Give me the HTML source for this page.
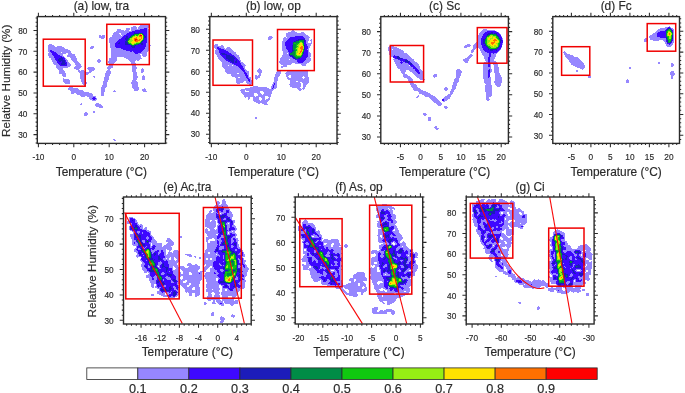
<!DOCTYPE html>
<html><head><meta charset="utf-8"><title>RH vs Temperature</title>
<style>html,body{margin:0;padding:0;background:#fff;}body{width:685px;height:393px;overflow:hidden;}svg{display:block;will-change:transform;}text{font-family:"Liberation Sans",sans-serif;fill:#2b2b2b;stroke:#2b2b2b;stroke-width:0.18px;}.t{font-size:11.9px;text-anchor:middle;}.k{font-size:9.2px;text-anchor:middle;}.ky{font-size:9.2px;text-anchor:end;}.ax{stroke:#2b2b2b;stroke-width:1.4;fill:none;}.tk{stroke:#2b2b2b;stroke-width:1.05;fill:none;}.bx{stroke:#f00000;stroke-width:1.5;fill:none;}.ln{stroke:#f80808;stroke-width:1.1;fill:none;}</style></head><body>
<svg width="685" height="393" viewBox="0 0 685 393">
<defs>
<filter id="cma" filterUnits="userSpaceOnUse" x="37.3" y="16.6" width="128.2" height="126.8" color-interpolation-filters="sRGB">
<feColorMatrix in="SourceGraphic" type="matrix" values="1 0 0 0 0  1 0 0 0 0  1 0 0 0 0  0 0 0 0 1" result="rr"/>
<feGaussianBlur in="rr" stdDeviation="1.1" result="dr"/>
<feColorMatrix in="SourceGraphic" type="matrix" values="0 1 0 0 0  0 1 0 0 0  0 1 0 0 0  0 0 0 0 1" result="gg"/>
<feGaussianBlur in="gg" stdDeviation="1.0" result="dg"/>
<feTurbulence type="fractalNoise" baseFrequency="0.2" numOctaves="2" seed="5" result="n0"/>
<feColorMatrix in="n0" type="matrix" values="1 0 0 0 0  1 0 0 0 0  1 0 0 0 0  0 0 0 0 1" result="n"/>
<feTurbulence type="fractalNoise" baseFrequency="0.25" numOctaves="1" seed="25" result="nf0"/>
<feColorMatrix in="nf0" type="matrix" values="1 0 0 0 0  1 0 0 0 0  1 0 0 0 0  0 0 0 0 1" result="nf"/>
<feComposite in="dr" in2="nf" operator="arithmetic" k1="2.8" k2="-0.4" k3="0" k4="0" result="mr"/>
<feComposite in="dg" in2="n" operator="arithmetic" k1="0.6" k2="0.7" k3="0" k4="0" result="mg"/>
<feFlood flood-color="rgb(49,49,49)" result="cap"/>
<feBlend in="mr" in2="cap" mode="darken" result="mrc"/>
<feBlend in="mrc" in2="mg" mode="lighten" result="mrg"/>
<feColorMatrix in="SourceGraphic" type="matrix" values="0 0 1 0 0  0 0 1 0 0  0 0 1 0 0  0 0 0 0 1" result="bb"/>
<feGaussianBlur in="bb" stdDeviation="0.9" result="db"/>
<feComposite in="db" in2="n" operator="arithmetic" k1="0.7" k2="0.65" k3="0" k4="0" result="mb"/>
<feBlend in="mrg" in2="mb" mode="lighten" result="m"/>
<feColorMatrix in="m" type="matrix" values="1 0 0 0 0  0 1 0 0 0  0 0 1 0 0  0 0 0 0 1" result="m0"/>
<feGaussianBlur in="m0" stdDeviation="0.5" result="m1"/>
<feComponentTransfer in="m1" result="ct"><feFuncR type="discrete" tableValues="1 0.59 0.24 0.11 0 0.06 0.59 1 1 1"/><feFuncG type="discrete" tableValues="1 0.53 0.03 0.11 0.55 0.78 0.93 0.89 0.44 0"/><feFuncB type="discrete" tableValues="1 1 1 0.73 0.27 0.06 0.08 0 0 0"/></feComponentTransfer>
<feGaussianBlur in="ct" stdDeviation="0.6"/>
</filter>
<clipPath id="cpa"><rect x="37.3" y="16.6" width="128.2" height="126.8"/></clipPath>
<filter id="cmb" filterUnits="userSpaceOnUse" x="209.8" y="16.6" width="127.2" height="126.8" color-interpolation-filters="sRGB">
<feColorMatrix in="SourceGraphic" type="matrix" values="1 0 0 0 0  1 0 0 0 0  1 0 0 0 0  0 0 0 0 1" result="rr"/>
<feGaussianBlur in="rr" stdDeviation="1.1" result="dr"/>
<feColorMatrix in="SourceGraphic" type="matrix" values="0 1 0 0 0  0 1 0 0 0  0 1 0 0 0  0 0 0 0 1" result="gg"/>
<feGaussianBlur in="gg" stdDeviation="1.0" result="dg"/>
<feTurbulence type="fractalNoise" baseFrequency="0.2" numOctaves="2" seed="8" result="n0"/>
<feColorMatrix in="n0" type="matrix" values="1 0 0 0 0  1 0 0 0 0  1 0 0 0 0  0 0 0 0 1" result="n"/>
<feTurbulence type="fractalNoise" baseFrequency="0.25" numOctaves="1" seed="28" result="nf0"/>
<feColorMatrix in="nf0" type="matrix" values="1 0 0 0 0  1 0 0 0 0  1 0 0 0 0  0 0 0 0 1" result="nf"/>
<feComposite in="dr" in2="nf" operator="arithmetic" k1="2.8" k2="-0.4" k3="0" k4="0" result="mr"/>
<feComposite in="dg" in2="n" operator="arithmetic" k1="0.6" k2="0.7" k3="0" k4="0" result="mg"/>
<feFlood flood-color="rgb(49,49,49)" result="cap"/>
<feBlend in="mr" in2="cap" mode="darken" result="mrc"/>
<feBlend in="mrc" in2="mg" mode="lighten" result="mrg"/>
<feColorMatrix in="SourceGraphic" type="matrix" values="0 0 1 0 0  0 0 1 0 0  0 0 1 0 0  0 0 0 0 1" result="bb"/>
<feGaussianBlur in="bb" stdDeviation="0.9" result="db"/>
<feComposite in="db" in2="n" operator="arithmetic" k1="0.7" k2="0.65" k3="0" k4="0" result="mb"/>
<feBlend in="mrg" in2="mb" mode="lighten" result="m"/>
<feColorMatrix in="m" type="matrix" values="1 0 0 0 0  0 1 0 0 0  0 0 1 0 0  0 0 0 0 1" result="m0"/>
<feGaussianBlur in="m0" stdDeviation="0.5" result="m1"/>
<feComponentTransfer in="m1" result="ct"><feFuncR type="discrete" tableValues="1 0.59 0.24 0.11 0 0.06 0.59 1 1 1"/><feFuncG type="discrete" tableValues="1 0.53 0.03 0.11 0.55 0.78 0.93 0.89 0.44 0"/><feFuncB type="discrete" tableValues="1 1 1 0.73 0.27 0.06 0.08 0 0 0"/></feComponentTransfer>
<feGaussianBlur in="ct" stdDeviation="0.6"/>
</filter>
<clipPath id="cpb"><rect x="209.8" y="16.6" width="127.2" height="126.8"/></clipPath>
<filter id="cmc" filterUnits="userSpaceOnUse" x="380.8" y="16.6" width="127.6" height="126.8" color-interpolation-filters="sRGB">
<feColorMatrix in="SourceGraphic" type="matrix" values="1 0 0 0 0  1 0 0 0 0  1 0 0 0 0  0 0 0 0 1" result="rr"/>
<feGaussianBlur in="rr" stdDeviation="1.1" result="dr"/>
<feColorMatrix in="SourceGraphic" type="matrix" values="0 1 0 0 0  0 1 0 0 0  0 1 0 0 0  0 0 0 0 1" result="gg"/>
<feGaussianBlur in="gg" stdDeviation="0.75" result="dg"/>
<feTurbulence type="fractalNoise" baseFrequency="0.2" numOctaves="2" seed="11" result="n0"/>
<feColorMatrix in="n0" type="matrix" values="1 0 0 0 0  1 0 0 0 0  1 0 0 0 0  0 0 0 0 1" result="n"/>
<feTurbulence type="fractalNoise" baseFrequency="0.25" numOctaves="1" seed="31" result="nf0"/>
<feColorMatrix in="nf0" type="matrix" values="1 0 0 0 0  1 0 0 0 0  1 0 0 0 0  0 0 0 0 1" result="nf"/>
<feComposite in="dr" in2="nf" operator="arithmetic" k1="2.3" k2="-0.15" k3="0" k4="0" result="mr"/>
<feComposite in="dg" in2="n" operator="arithmetic" k1="0.6" k2="0.7" k3="0" k4="0" result="mg"/>
<feFlood flood-color="rgb(49,49,49)" result="cap"/>
<feBlend in="mr" in2="cap" mode="darken" result="mrc"/>
<feBlend in="mrc" in2="mg" mode="lighten" result="mrg"/>
<feColorMatrix in="SourceGraphic" type="matrix" values="0 0 1 0 0  0 0 1 0 0  0 0 1 0 0  0 0 0 0 1" result="bb"/>
<feGaussianBlur in="bb" stdDeviation="0.9" result="db"/>
<feComposite in="db" in2="n" operator="arithmetic" k1="0.7" k2="0.65" k3="0" k4="0" result="mb"/>
<feBlend in="mrg" in2="mb" mode="lighten" result="m"/>
<feColorMatrix in="m" type="matrix" values="1 0 0 0 0  0 1 0 0 0  0 0 1 0 0  0 0 0 0 1" result="m0"/>
<feGaussianBlur in="m0" stdDeviation="0.5" result="m1"/>
<feComponentTransfer in="m1" result="ct"><feFuncR type="discrete" tableValues="1 0.59 0.24 0.11 0 0.06 0.59 1 1 1"/><feFuncG type="discrete" tableValues="1 0.53 0.03 0.11 0.55 0.78 0.93 0.89 0.44 0"/><feFuncB type="discrete" tableValues="1 1 1 0.73 0.27 0.06 0.08 0 0 0"/></feComponentTransfer>
<feGaussianBlur in="ct" stdDeviation="0.6"/>
</filter>
<clipPath id="cpc"><rect x="380.8" y="16.6" width="127.6" height="126.8"/></clipPath>
<filter id="cmd" filterUnits="userSpaceOnUse" x="552.8" y="16.6" width="126.7" height="126.8" color-interpolation-filters="sRGB">
<feColorMatrix in="SourceGraphic" type="matrix" values="1 0 0 0 0  1 0 0 0 0  1 0 0 0 0  0 0 0 0 1" result="rr"/>
<feGaussianBlur in="rr" stdDeviation="1.1" result="dr"/>
<feColorMatrix in="SourceGraphic" type="matrix" values="0 1 0 0 0  0 1 0 0 0  0 1 0 0 0  0 0 0 0 1" result="gg"/>
<feGaussianBlur in="gg" stdDeviation="1.0" result="dg"/>
<feTurbulence type="fractalNoise" baseFrequency="0.2" numOctaves="2" seed="2" result="n0"/>
<feColorMatrix in="n0" type="matrix" values="1 0 0 0 0  1 0 0 0 0  1 0 0 0 0  0 0 0 0 1" result="n"/>
<feTurbulence type="fractalNoise" baseFrequency="0.25" numOctaves="1" seed="22" result="nf0"/>
<feColorMatrix in="nf0" type="matrix" values="1 0 0 0 0  1 0 0 0 0  1 0 0 0 0  0 0 0 0 1" result="nf"/>
<feComposite in="dr" in2="nf" operator="arithmetic" k1="0.8" k2="0.6" k3="0" k4="0" result="mr"/>
<feComposite in="dg" in2="n" operator="arithmetic" k1="0.6" k2="0.7" k3="0" k4="0" result="mg"/>
<feFlood flood-color="rgb(49,49,49)" result="cap"/>
<feBlend in="mr" in2="cap" mode="darken" result="mrc"/>
<feBlend in="mrc" in2="mg" mode="lighten" result="mrg"/>
<feColorMatrix in="SourceGraphic" type="matrix" values="0 0 1 0 0  0 0 1 0 0  0 0 1 0 0  0 0 0 0 1" result="bb"/>
<feGaussianBlur in="bb" stdDeviation="0.9" result="db"/>
<feComposite in="db" in2="n" operator="arithmetic" k1="0.7" k2="0.65" k3="0" k4="0" result="mb"/>
<feBlend in="mrg" in2="mb" mode="lighten" result="m"/>
<feColorMatrix in="m" type="matrix" values="1 0 0 0 0  0 1 0 0 0  0 0 1 0 0  0 0 0 0 1" result="m0"/>
<feGaussianBlur in="m0" stdDeviation="0.5" result="m1"/>
<feComponentTransfer in="m1" result="ct"><feFuncR type="discrete" tableValues="1 0.59 0.24 0.11 0 0.06 0.59 1 1 1"/><feFuncG type="discrete" tableValues="1 0.53 0.03 0.11 0.55 0.78 0.93 0.89 0.44 0"/><feFuncB type="discrete" tableValues="1 1 1 0.73 0.27 0.06 0.08 0 0 0"/></feComponentTransfer>
<feGaussianBlur in="ct" stdDeviation="0.6"/>
</filter>
<clipPath id="cpd"><rect x="552.8" y="16.6" width="126.7" height="126.8"/></clipPath>
<filter id="cme" filterUnits="userSpaceOnUse" x="123.5" y="197" width="127.7" height="127" color-interpolation-filters="sRGB">
<feColorMatrix in="SourceGraphic" type="matrix" values="1 0 0 0 0  1 0 0 0 0  1 0 0 0 0  0 0 0 0 1" result="rr"/>
<feGaussianBlur in="rr" stdDeviation="1.0" result="dr"/>
<feColorMatrix in="SourceGraphic" type="matrix" values="0 1 0 0 0  0 1 0 0 0  0 1 0 0 0  0 0 0 0 1" result="gg"/>
<feGaussianBlur in="gg" stdDeviation="0.9" result="dg"/>
<feTurbulence type="fractalNoise" baseFrequency="0.26" numOctaves="1" seed="4" result="n0"/>
<feColorMatrix in="n0" type="matrix" values="1 0 0 0 0  1 0 0 0 0  1 0 0 0 0  0 0 0 0 1" result="n"/>
<feTurbulence type="fractalNoise" baseFrequency="0.25" numOctaves="1" seed="24" result="nf0"/>
<feColorMatrix in="nf0" type="matrix" values="1 0 0 0 0  1 0 0 0 0  1 0 0 0 0  0 0 0 0 1" result="nf"/>
<feComposite in="dr" in2="n" operator="arithmetic" k1="3.2" k2="-0.6" k3="0" k4="0" result="mr"/>
<feComposite in="dg" in2="n" operator="arithmetic" k1="2.4" k2="-0.2" k3="0" k4="0" result="mg"/>
<feFlood flood-color="rgb(49,49,49)" result="cap"/>
<feBlend in="mr" in2="cap" mode="darken" result="mrc"/>
<feBlend in="mrc" in2="mg" mode="lighten" result="mrg"/>
<feColorMatrix in="SourceGraphic" type="matrix" values="0 0 1 0 0  0 0 1 0 0  0 0 1 0 0  0 0 0 0 1" result="bb"/>
<feGaussianBlur in="bb" stdDeviation="0.9" result="db"/>
<feComposite in="db" in2="n" operator="arithmetic" k1="1.3" k2="0.35" k3="0" k4="0" result="mb"/>
<feBlend in="mrg" in2="mb" mode="lighten" result="m"/>
<feColorMatrix in="m" type="matrix" values="1 0 0 0 0  0 1 0 0 0  0 0 1 0 0  0 0 0 0 1" result="m0"/>
<feGaussianBlur in="m0" stdDeviation="0.6" result="m1"/>
<feComponentTransfer in="m1" result="ct"><feFuncR type="discrete" tableValues="1 0.59 0.24 0.11 0 0.06 0.59 1 1 1"/><feFuncG type="discrete" tableValues="1 0.53 0.03 0.11 0.55 0.78 0.93 0.89 0.44 0"/><feFuncB type="discrete" tableValues="1 1 1 0.73 0.27 0.06 0.08 0 0 0"/></feComponentTransfer>
<feGaussianBlur in="ct" stdDeviation="0.6"/>
</filter>
<clipPath id="cpe"><rect x="123.5" y="197" width="127.7" height="127"/></clipPath>
<filter id="cmf" filterUnits="userSpaceOnUse" x="295.2" y="197" width="127.5" height="127" color-interpolation-filters="sRGB">
<feColorMatrix in="SourceGraphic" type="matrix" values="1 0 0 0 0  1 0 0 0 0  1 0 0 0 0  0 0 0 0 1" result="rr"/>
<feGaussianBlur in="rr" stdDeviation="1.0" result="dr"/>
<feColorMatrix in="SourceGraphic" type="matrix" values="0 1 0 0 0  0 1 0 0 0  0 1 0 0 0  0 0 0 0 1" result="gg"/>
<feGaussianBlur in="gg" stdDeviation="0.9" result="dg"/>
<feTurbulence type="fractalNoise" baseFrequency="0.26" numOctaves="1" seed="7" result="n0"/>
<feColorMatrix in="n0" type="matrix" values="1 0 0 0 0  1 0 0 0 0  1 0 0 0 0  0 0 0 0 1" result="n"/>
<feTurbulence type="fractalNoise" baseFrequency="0.25" numOctaves="1" seed="27" result="nf0"/>
<feColorMatrix in="nf0" type="matrix" values="1 0 0 0 0  1 0 0 0 0  1 0 0 0 0  0 0 0 0 1" result="nf"/>
<feComposite in="dr" in2="n" operator="arithmetic" k1="3.2" k2="-0.6" k3="0" k4="0" result="mr"/>
<feComposite in="dg" in2="n" operator="arithmetic" k1="2.4" k2="-0.2" k3="0" k4="0" result="mg"/>
<feFlood flood-color="rgb(49,49,49)" result="cap"/>
<feBlend in="mr" in2="cap" mode="darken" result="mrc"/>
<feBlend in="mrc" in2="mg" mode="lighten" result="mrg"/>
<feColorMatrix in="SourceGraphic" type="matrix" values="0 0 1 0 0  0 0 1 0 0  0 0 1 0 0  0 0 0 0 1" result="bb"/>
<feGaussianBlur in="bb" stdDeviation="0.9" result="db"/>
<feComposite in="db" in2="n" operator="arithmetic" k1="1.3" k2="0.35" k3="0" k4="0" result="mb"/>
<feBlend in="mrg" in2="mb" mode="lighten" result="m"/>
<feColorMatrix in="m" type="matrix" values="1 0 0 0 0  0 1 0 0 0  0 0 1 0 0  0 0 0 0 1" result="m0"/>
<feGaussianBlur in="m0" stdDeviation="0.6" result="m1"/>
<feComponentTransfer in="m1" result="ct"><feFuncR type="discrete" tableValues="1 0.59 0.24 0.11 0 0.06 0.59 1 1 1"/><feFuncG type="discrete" tableValues="1 0.53 0.03 0.11 0.55 0.78 0.93 0.89 0.44 0"/><feFuncB type="discrete" tableValues="1 1 1 0.73 0.27 0.06 0.08 0 0 0"/></feComponentTransfer>
<feGaussianBlur in="ct" stdDeviation="0.6"/>
</filter>
<clipPath id="cpf"><rect x="295.2" y="197" width="127.5" height="127"/></clipPath>
<filter id="cmg" filterUnits="userSpaceOnUse" x="466.2" y="197" width="127.9" height="127" color-interpolation-filters="sRGB">
<feColorMatrix in="SourceGraphic" type="matrix" values="1 0 0 0 0  1 0 0 0 0  1 0 0 0 0  0 0 0 0 1" result="rr"/>
<feGaussianBlur in="rr" stdDeviation="1.0" result="dr"/>
<feColorMatrix in="SourceGraphic" type="matrix" values="0 1 0 0 0  0 1 0 0 0  0 1 0 0 0  0 0 0 0 1" result="gg"/>
<feGaussianBlur in="gg" stdDeviation="0.9" result="dg"/>
<feTurbulence type="fractalNoise" baseFrequency="0.26" numOctaves="1" seed="9" result="n0"/>
<feColorMatrix in="n0" type="matrix" values="1 0 0 0 0  1 0 0 0 0  1 0 0 0 0  0 0 0 0 1" result="n"/>
<feTurbulence type="fractalNoise" baseFrequency="0.25" numOctaves="1" seed="29" result="nf0"/>
<feColorMatrix in="nf0" type="matrix" values="1 0 0 0 0  1 0 0 0 0  1 0 0 0 0  0 0 0 0 1" result="nf"/>
<feComposite in="dr" in2="n" operator="arithmetic" k1="3.2" k2="-0.6" k3="0" k4="0" result="mr"/>
<feComposite in="dg" in2="n" operator="arithmetic" k1="2.4" k2="-0.2" k3="0" k4="0" result="mg"/>
<feFlood flood-color="rgb(49,49,49)" result="cap"/>
<feBlend in="mr" in2="cap" mode="darken" result="mrc"/>
<feBlend in="mrc" in2="mg" mode="lighten" result="mrg"/>
<feColorMatrix in="SourceGraphic" type="matrix" values="0 0 1 0 0  0 0 1 0 0  0 0 1 0 0  0 0 0 0 1" result="bb"/>
<feGaussianBlur in="bb" stdDeviation="0.9" result="db"/>
<feComposite in="db" in2="n" operator="arithmetic" k1="1.3" k2="0.35" k3="0" k4="0" result="mb"/>
<feBlend in="mrg" in2="mb" mode="lighten" result="m"/>
<feColorMatrix in="m" type="matrix" values="1 0 0 0 0  0 1 0 0 0  0 0 1 0 0  0 0 0 0 1" result="m0"/>
<feGaussianBlur in="m0" stdDeviation="0.6" result="m1"/>
<feComponentTransfer in="m1" result="ct"><feFuncR type="discrete" tableValues="1 0.59 0.24 0.11 0 0.06 0.59 1 1 1"/><feFuncG type="discrete" tableValues="1 0.53 0.03 0.11 0.55 0.78 0.93 0.89 0.44 0"/><feFuncB type="discrete" tableValues="1 1 1 0.73 0.27 0.06 0.08 0 0 0"/></feComponentTransfer>
<feGaussianBlur in="ct" stdDeviation="0.6"/>
</filter>
<clipPath id="cpg"><rect x="466.2" y="197" width="127.9" height="127"/></clipPath>
</defs>
<g clip-path="url(#cpa)"><g filter="url(#cma)">
<rect x="27.3" y="6.6" width="148.2" height="146.8" fill="#000"/>
<path d="M50.22 47.31 L64.48 50.37 L73.64 57.49 L81.79 70.73 L84.44 82.95" stroke="rgb(48,0,0)" stroke-width="5.7" stroke-linecap="round" stroke-linejoin="round" fill="none"/>
<path d="M50.22 53.42 L60.4 69.71 L68.55 83.97" stroke="rgb(48,0,0)" stroke-width="5.3" stroke-linecap="round" stroke-linejoin="round" fill="none"/>
<path d="M54.29 52.4 L66.51 64.62" stroke="rgb(48,0,0)" stroke-width="8.15" stroke-linecap="round" stroke-linejoin="round" fill="none"/>
<path d="M70.71 90.02 L80.99 92.82 L93.14 98.06" stroke="rgb(48,0,0)" stroke-width="5.98" stroke-linecap="round" stroke-linejoin="round" fill="none"/>
<ellipse cx="99.31" cy="105.91" rx="4.49" ry="1.31" fill="rgb(107,0,0)" transform="rotate(25 99.31 105.91)"/>
<ellipse cx="81.36" cy="104.04" rx="1.12" ry="1.12" fill="rgb(107,0,0)"/>
<ellipse cx="85.66" cy="114.32" rx="1.68" ry="1.68" fill="rgb(107,0,0)"/>
<ellipse cx="94.07" cy="112.45" rx="1.12" ry="1.12" fill="rgb(107,0,0)"/>
<ellipse cx="92.21" cy="120.49" rx="0.75" ry="0.75" fill="rgb(107,0,0)"/>
<ellipse cx="114.64" cy="139.55" rx="1.87" ry="0.56" fill="rgb(107,0,0)" transform="rotate(40 114.64 139.55)"/>
<ellipse cx="114.64" cy="91.89" rx="1.68" ry="0.93" fill="rgb(107,0,0)"/>
<ellipse cx="118.37" cy="81.61" rx="0.93" ry="0.93" fill="rgb(107,0,0)"/>
<ellipse cx="144.54" cy="90.58" rx="2.24" ry="0.93" fill="rgb(107,0,0)" transform="rotate(30 144.54 90.58)"/>
<ellipse cx="92.99" cy="68.7" rx="1.22" ry="1.22" fill="rgb(107,0,0)"/>
<ellipse cx="99.1" cy="60.55" rx="1.63" ry="1.02" fill="rgb(107,0,0)" transform="rotate(-30 99.1 60.55)"/>
<ellipse cx="91.97" cy="47.31" rx="1.02" ry="1.02" fill="rgb(107,0,0)"/>
<ellipse cx="86.88" cy="73.79" rx="1.02" ry="1.02" fill="rgb(107,0,0)"/>
<ellipse cx="94.01" cy="76.84" rx="1.02" ry="1.02" fill="rgb(107,0,0)"/>
<ellipse cx="98.08" cy="83.97" rx="1.02" ry="1.02" fill="rgb(107,0,0)"/>
<ellipse cx="103.58" cy="37.13" rx="1.22" ry="1.22" fill="rgb(107,0,0)"/>
<path d="M48.18 48.74 L53.27 50.37 L58.37 54.03 L63.46 56.48 L66.51 60.55 L68.55 64.62 L66.51 67.68 L62.44 67.07 L58.37 64.62 L55.31 60.55 L51.85 55.46 L49.2 51.38Z" fill="rgb(43,69,0)"/>
<ellipse cx="61.42" cy="61.57" rx="3.87" ry="3.87" fill="rgb(43,94,0)"/>
<ellipse cx="61.42" cy="61.98" rx="1.63" ry="1.63" fill="rgb(43,66,117)"/>
<ellipse cx="75.68" cy="67.68" rx="1.63" ry="1.63" fill="rgb(43,64,0)"/>
<ellipse cx="68.55" cy="81.93" rx="1.22" ry="1.63" fill="rgb(43,61,0)"/>
<ellipse cx="94.07" cy="98.8" rx="2.62" ry="2.06" fill="rgb(43,76,0)"/>
<path d="M109 38.47 L117.19 29.57 L127.86 27.79 L136.76 26.01 L149.22 24.23 L150.28 45.59 L147.44 56.26 L140.32 59.82 L133.2 63.38 L122.53 56.26 L113.63 63.38 L108.29 63.38 L111.14 52.7 L110.07 45.59Z" fill="rgb(47,0,0)"/>
<path d="M113.63 43.81 L120.75 36.69 L129.64 31.35 L140.32 28.51 L148.15 26.01 L148.15 42.03 L144.59 50.93 L136.76 55.55 L127.86 51.99 L120.75 49.15 L115.41 48.43Z" fill="rgb(43,64,0)"/>
<ellipse cx="118.26" cy="44.16" rx="1.78" ry="1.78" fill="rgb(43,87,0)"/>
<ellipse cx="125.37" cy="43.1" rx="1.78" ry="1.78" fill="rgb(43,87,0)"/>
<ellipse cx="135.69" cy="39.54" rx="11.03" ry="7.47" fill="rgb(43,84,0)" transform="rotate(-20 135.69 39.54)"/>
<ellipse cx="135.69" cy="39.54" rx="9.25" ry="6.05" fill="rgb(43,66,143)" transform="rotate(-20 135.69 39.54)"/>
<ellipse cx="136.76" cy="39.18" rx="6.76" ry="3.74" fill="rgb(43,66,212)" transform="rotate(-20 136.76 39.18)"/>
<ellipse cx="141.03" cy="34.91" rx="1.78" ry="1.42" fill="rgb(43,66,255)"/>
<ellipse cx="136.05" cy="41.32" rx="1.6" ry="1.42" fill="rgb(43,66,255)"/>
<path d="M115.41 52.7 L110.07 66.94 L105.44 81.17 L102.95 93.63" stroke="rgb(51,0,0)" stroke-width="4.63" stroke-linecap="round" stroke-linejoin="round" fill="none"/>
<path d="M133.2 59.82 L134.98 77.62 L136.76 90.07" stroke="rgb(51,0,0)" stroke-width="4.27" stroke-linecap="round" stroke-linejoin="round" fill="none"/>
<path d="M142.1 66.94 L143.17 81.17" stroke="rgb(48,0,0)" stroke-width="2.85" stroke-linecap="round" stroke-linejoin="round" fill="none"/>
<path d="M86.94 68.72 L92.28 66.94" stroke="rgb(43,0,0)" stroke-width="2.49" stroke-linecap="round" stroke-linejoin="round" fill="none"/>
<ellipse cx="92.28" cy="47.37" rx="1.42" ry="1.42" fill="rgb(107,0,0)"/>
<ellipse cx="101.17" cy="36.69" rx="1.78" ry="1.42" fill="rgb(107,0,0)"/>
<ellipse cx="92.61" cy="47.07" rx="1.13" ry="1.13" fill="rgb(107,0,0)"/>
<ellipse cx="99.21" cy="61.2" rx="1.69" ry="1.13" fill="rgb(107,0,0)" transform="rotate(-30 99.21 61.2)"/>
<ellipse cx="90.73" cy="70.61" rx="2.26" ry="1.13" fill="rgb(107,0,0)" transform="rotate(-30 90.73 70.61)"/>
<ellipse cx="104.33" cy="83.82" rx="2.54" ry="2.54" fill="rgb(43,0,0)"/>
<ellipse cx="133.59" cy="85.09" rx="3.05" ry="3.56" fill="rgb(46,0,0)"/>
</g></g>
<rect class="bx" x="43.3" y="39.2" width="41.9" height="47"/>
<rect class="bx" x="106.8" y="24.3" width="42.5" height="40.3"/>
<path class="tk" d="M38.4 143.4 v3.8 M38.4 16.6 v-3.8 M45.48 143.4 v1.7 M45.48 16.6 v-1.7 M52.56 143.4 v1.7 M52.56 16.6 v-1.7 M59.64 143.4 v1.7 M59.64 16.6 v-1.7 M66.72 143.4 v1.7 M66.72 16.6 v-1.7 M73.8 143.4 v3.8 M73.8 16.6 v-3.8 M80.88 143.4 v1.7 M80.88 16.6 v-1.7 M87.96 143.4 v1.7 M87.96 16.6 v-1.7 M95.04 143.4 v1.7 M95.04 16.6 v-1.7 M102.12 143.4 v1.7 M102.12 16.6 v-1.7 M109.2 143.4 v3.8 M109.2 16.6 v-3.8 M116.28 143.4 v1.7 M116.28 16.6 v-1.7 M123.36 143.4 v1.7 M123.36 16.6 v-1.7 M130.44 143.4 v1.7 M130.44 16.6 v-1.7 M137.52 143.4 v1.7 M137.52 16.6 v-1.7 M144.6 143.4 v3.8 M144.6 16.6 v-3.8 M151.68 143.4 v1.7 M151.68 16.6 v-1.7 M158.76 143.4 v1.7 M158.76 16.6 v-1.7 M37.3 142.93 h-1.7 M165.5 142.93 h1.7 M37.3 138.76 h-1.7 M165.5 138.76 h1.7 M37.3 134.6 h-3.8 M165.5 134.6 h3.8 M37.3 130.44 h-1.7 M165.5 130.44 h1.7 M37.3 126.27 h-1.7 M165.5 126.27 h1.7 M37.3 122.11 h-1.7 M165.5 122.11 h1.7 M37.3 117.94 h-1.7 M165.5 117.94 h1.7 M37.3 113.78 h-3.8 M165.5 113.78 h3.8 M37.3 109.62 h-1.7 M165.5 109.62 h1.7 M37.3 105.45 h-1.7 M165.5 105.45 h1.7 M37.3 101.29 h-1.7 M165.5 101.29 h1.7 M37.3 97.12 h-1.7 M165.5 97.12 h1.7 M37.3 92.96 h-3.8 M165.5 92.96 h3.8 M37.3 88.8 h-1.7 M165.5 88.8 h1.7 M37.3 84.63 h-1.7 M165.5 84.63 h1.7 M37.3 80.47 h-1.7 M165.5 80.47 h1.7 M37.3 76.3 h-1.7 M165.5 76.3 h1.7 M37.3 72.14 h-3.8 M165.5 72.14 h3.8 M37.3 67.98 h-1.7 M165.5 67.98 h1.7 M37.3 63.81 h-1.7 M165.5 63.81 h1.7 M37.3 59.65 h-1.7 M165.5 59.65 h1.7 M37.3 55.48 h-1.7 M165.5 55.48 h1.7 M37.3 51.32 h-3.8 M165.5 51.32 h3.8 M37.3 47.16 h-1.7 M165.5 47.16 h1.7 M37.3 42.99 h-1.7 M165.5 42.99 h1.7 M37.3 38.83 h-1.7 M165.5 38.83 h1.7 M37.3 34.66 h-1.7 M165.5 34.66 h1.7 M37.3 30.5 h-3.8 M165.5 30.5 h3.8 M37.3 26.34 h-1.7 M165.5 26.34 h1.7 M37.3 22.17 h-1.7 M165.5 22.17 h1.7 M37.3 18.01 h-1.7 M165.5 18.01 h1.7"/>
<rect class="ax" x="37.3" y="16.6" width="128.2" height="126.8"/>
<text class="k" transform="translate(38.4 159.9) scale(0.9 1)">-10</text>
<text class="k" transform="translate(73.8 159.9) scale(0.9 1)">0</text>
<text class="k" transform="translate(109.2 159.9) scale(0.9 1)">10</text>
<text class="k" transform="translate(144.6 159.9) scale(0.9 1)">20</text>
<text class="ky" transform="translate(27.4 137.9) scale(0.9 1)">30</text>
<text class="ky" transform="translate(27.4 117.08) scale(0.9 1)">40</text>
<text class="ky" transform="translate(27.4 96.26) scale(0.9 1)">50</text>
<text class="ky" transform="translate(27.4 75.44) scale(0.9 1)">60</text>
<text class="ky" transform="translate(27.4 54.62) scale(0.9 1)">70</text>
<text class="ky" transform="translate(27.4 33.8) scale(0.9 1)">80</text>
<text class="t" x="101.4" y="10.4">(a) low, tra</text>
<text class="t" x="101.4" y="175.5">Temperature (°C)</text>
<text class="t" style="font-size:11.7px" transform="translate(10.1 80.8) rotate(-90)">Relative Humidity (%)</text>
<g clip-path="url(#cpb)"><g filter="url(#cmb)">
<rect x="199.8" y="6.6" width="147.2" height="146.8" fill="#000"/>
<path d="M213.05 43.24 L221.2 45.27 L229.35 47.31 L235.46 52.4 L240.55 57.49 L244.62 63.6 L248.7 70.73 L252.77 82.95 L250.73 85.4 L244.62 81.93 L240.55 83.97 L234.44 82.95 L230.37 77.86 L225.27 70.73 L220.18 62.59 L216.11 54.44 L214.07 48.33Z" fill="rgb(49,0,0)"/>
<ellipse cx="229.35" cy="75.82" rx="2.04" ry="2.04" fill="rgb(0,0,0)"/>
<ellipse cx="235.25" cy="79.9" rx="1.83" ry="1.83" fill="rgb(0,0,0)"/>
<ellipse cx="238.51" cy="73.38" rx="1.43" ry="1.83" fill="rgb(0,0,0)"/>
<path d="M215.09 44.66 L220.18 47.31 L227.31 50.37 L233.42 54.44 L238.51 58.51 L242.59 64.62 L245.64 70.73 L249.71 78.88 L251.34 83.97 L247.68 80.92 L243.6 73.79 L239.53 68.7 L235.46 65.64 L230.37 63.6 L224.26 60.55 L220.18 55.46 L217.13 50.37Z" fill="rgb(43,69,0)"/>
<path d="M222.22 53.42 L235.46 61.57" stroke="rgb(43,92,0)" stroke-width="3.46" stroke-linecap="round" stroke-linejoin="round" fill="none"/>
<ellipse cx="224.66" cy="55.46" rx="1.43" ry="1.43" fill="rgb(43,66,120)"/>
<ellipse cx="233.42" cy="60.14" rx="1.22" ry="1.22" fill="rgb(43,66,117)"/>
<path d="M240.55 66.66 L245.64 73.79 L250.73 82.95" stroke="rgb(43,82,0)" stroke-width="1.83" stroke-linecap="round" stroke-linejoin="round" fill="none"/>
<path d="M282.5 40.48 L285.33 33.89 L290.98 32.01 L292.86 28.24 L297.57 34.83 L303.22 32.01 L307.93 35.77 L312.64 40.48 L309.81 48.02 L311.69 59.31 L304.16 65.91 L298.51 64.96 L292.86 62.14 L287.21 66.85 L280.62 67.79 L279.68 61.2 L282.5 53.66 L281.56 46.13Z" fill="rgb(57,0,0)"/>
<path d="M284.39 42.37 L290.04 36.72 L298.51 35.77 L304.16 36.72 L307.93 44.25 L308.87 55.55 L304.16 63.08 L297.57 63.08 L292.86 58.37 L289.1 53.66 L285.33 48.02Z" fill="rgb(43,66,0)" stroke="rgb(43,66,0)" stroke-width="1" stroke-linejoin="round"/>
<ellipse cx="297.95" cy="49.33" rx="6.78" ry="10.92" fill="rgb(43,66,117)" transform="rotate(10 297.95 49.33)"/>
<ellipse cx="300.02" cy="49.9" rx="3.77" ry="8.29" fill="rgb(43,66,184)" transform="rotate(10 300.02 49.9)"/>
<ellipse cx="300.77" cy="50.84" rx="1.51" ry="4.52" fill="rgb(43,66,204)" transform="rotate(10 300.77 50.84)"/>
<ellipse cx="290.98" cy="54.61" rx="2.26" ry="2.26" fill="rgb(43,66,128)"/>
<ellipse cx="294.18" cy="42.93" rx="2.26" ry="1.88" fill="rgb(43,66,128)"/>
<ellipse cx="304.16" cy="40.48" rx="1.88" ry="2.26" fill="rgb(43,66,115)"/>
<ellipse cx="270.26" cy="38.22" rx="2.26" ry="1.13" fill="rgb(107,0,0)" transform="rotate(-45 270.26 38.22)"/>
<ellipse cx="285.33" cy="27.68" rx="0.94" ry="0.94" fill="rgb(107,0,0)"/>
<path d="M285.33 70.61 L292.86 69.67 L298.51 72.5 L306.05 71.56 L308.87 78.15 L307.93 84.74 L300.4 89.45 L294.75 85.68 L289.1 81.91 L286.27 76.26Z" fill="rgb(43,0,0)"/>
<path d="M276.85 76.26 L274.03 89.45" stroke="rgb(54,0,0)" stroke-width="4.14" stroke-linecap="round" stroke-linejoin="round" fill="none"/>
<path d="M258.96 70.61 L256.14 78.15" stroke="rgb(48,0,0)" stroke-width="3.39" stroke-linecap="round" stroke-linejoin="round" fill="none"/>
<path d="M259.91 70 L258.02 77.53" stroke="rgb(48,0,0)" stroke-width="3.39" stroke-linecap="round" stroke-linejoin="round" fill="none"/>
<path d="M278.74 71.88 L274.97 83.18 L270.26 92.6 L263.67 100.13" stroke="rgb(64,0,0)" stroke-width="3.39" stroke-linecap="round" stroke-linejoin="round" fill="none"/>
<path d="M276.85 77.53 L272.15 89.77 L266.5 97.31" stroke="rgb(43,84,0)" stroke-width="2.07" stroke-linecap="round" stroke-linejoin="round" fill="none"/>
<path d="M240.13 89.77 L247.66 87.89 L257.08 86.01 L266.5 86.95 L272.15 90.72 L270.26 98.25 L266.5 102.96 L269.32 106.72 L260.85 103.9 L253.31 101.07 L245.78 98.25 L242.02 93.54Z" fill="rgb(54,0,0)"/>
<ellipse cx="248.7" cy="91.71" rx="2.24" ry="1.83" fill="rgb(0,0,0)"/>
<ellipse cx="255.21" cy="95.17" rx="2.24" ry="2.04" fill="rgb(0,0,0)"/>
<ellipse cx="261.93" cy="92.73" rx="2.04" ry="2.04" fill="rgb(0,0,0)"/>
<ellipse cx="251.75" cy="99.25" rx="2.04" ry="1.63" fill="rgb(0,0,0)"/>
<ellipse cx="260.51" cy="99.25" rx="2.04" ry="1.83" fill="rgb(0,0,0)"/>
<ellipse cx="266.42" cy="96.8" rx="1.63" ry="2.04" fill="rgb(0,0,0)"/>
<path d="M285.33 70 L307.93 70 L308.87 81.3 L306.99 86.95 L301.34 91.66 L294.75 87.89 L290.04 86.95 L287.21 79.42Z" fill="rgb(41,0,0)"/>
<ellipse cx="249.55" cy="112.37" rx="1.51" ry="0.75" fill="rgb(107,0,0)"/>
<ellipse cx="256.14" cy="117.46" rx="1.32" ry="0.94" fill="rgb(107,0,0)"/>
<ellipse cx="304.16" cy="96.37" rx="1.51" ry="0.56" fill="rgb(107,0,0)"/>
</g></g>
<rect class="bx" x="213" y="40" width="39.5" height="45.3"/>
<rect class="bx" x="277.5" y="29.5" width="36.8" height="41.1"/>
<path class="tk" d="M211.35 143.4 v3.8 M211.35 16.6 v-3.8 M218.34 143.4 v1.7 M218.34 16.6 v-1.7 M225.33 143.4 v1.7 M225.33 16.6 v-1.7 M232.32 143.4 v1.7 M232.32 16.6 v-1.7 M239.31 143.4 v1.7 M239.31 16.6 v-1.7 M246.3 143.4 v3.8 M246.3 16.6 v-3.8 M253.29 143.4 v1.7 M253.29 16.6 v-1.7 M260.28 143.4 v1.7 M260.28 16.6 v-1.7 M267.27 143.4 v1.7 M267.27 16.6 v-1.7 M274.26 143.4 v1.7 M274.26 16.6 v-1.7 M281.25 143.4 v3.8 M281.25 16.6 v-3.8 M288.24 143.4 v1.7 M288.24 16.6 v-1.7 M295.23 143.4 v1.7 M295.23 16.6 v-1.7 M302.22 143.4 v1.7 M302.22 16.6 v-1.7 M309.21 143.4 v1.7 M309.21 16.6 v-1.7 M316.2 143.4 v3.8 M316.2 16.6 v-3.8 M323.19 143.4 v1.7 M323.19 16.6 v-1.7 M330.18 143.4 v1.7 M330.18 16.6 v-1.7 M337.17 143.4 v1.7 M337.17 16.6 v-1.7 M209.8 142.54 h-1.7 M337 142.54 h1.7 M209.8 138.34 h-1.7 M337 138.34 h1.7 M209.8 134.15 h-3.8 M337 134.15 h3.8 M209.8 129.96 h-1.7 M337 129.96 h1.7 M209.8 125.76 h-1.7 M337 125.76 h1.7 M209.8 121.57 h-1.7 M337 121.57 h1.7 M209.8 117.37 h-1.7 M337 117.37 h1.7 M209.8 113.18 h-3.8 M337 113.18 h3.8 M209.8 108.99 h-1.7 M337 108.99 h1.7 M209.8 104.79 h-1.7 M337 104.79 h1.7 M209.8 100.6 h-1.7 M337 100.6 h1.7 M209.8 96.4 h-1.7 M337 96.4 h1.7 M209.8 92.21 h-3.8 M337 92.21 h3.8 M209.8 88.02 h-1.7 M337 88.02 h1.7 M209.8 83.82 h-1.7 M337 83.82 h1.7 M209.8 79.63 h-1.7 M337 79.63 h1.7 M209.8 75.43 h-1.7 M337 75.43 h1.7 M209.8 71.24 h-3.8 M337 71.24 h3.8 M209.8 67.05 h-1.7 M337 67.05 h1.7 M209.8 62.85 h-1.7 M337 62.85 h1.7 M209.8 58.66 h-1.7 M337 58.66 h1.7 M209.8 54.46 h-1.7 M337 54.46 h1.7 M209.8 50.27 h-3.8 M337 50.27 h3.8 M209.8 46.08 h-1.7 M337 46.08 h1.7 M209.8 41.88 h-1.7 M337 41.88 h1.7 M209.8 37.69 h-1.7 M337 37.69 h1.7 M209.8 33.49 h-1.7 M337 33.49 h1.7 M209.8 29.3 h-3.8 M337 29.3 h3.8 M209.8 25.11 h-1.7 M337 25.11 h1.7 M209.8 20.91 h-1.7 M337 20.91 h1.7 M209.8 16.72 h-1.7 M337 16.72 h1.7"/>
<rect class="ax" x="209.8" y="16.6" width="127.2" height="126.8"/>
<text class="k" transform="translate(211.35 159.9) scale(0.9 1)">-10</text>
<text class="k" transform="translate(246.3 159.9) scale(0.9 1)">0</text>
<text class="k" transform="translate(281.25 159.9) scale(0.9 1)">10</text>
<text class="k" transform="translate(316.2 159.9) scale(0.9 1)">20</text>
<text class="ky" transform="translate(199.9 137.45) scale(0.9 1)">30</text>
<text class="ky" transform="translate(199.9 116.48) scale(0.9 1)">40</text>
<text class="ky" transform="translate(199.9 95.51) scale(0.9 1)">50</text>
<text class="ky" transform="translate(199.9 74.54) scale(0.9 1)">60</text>
<text class="ky" transform="translate(199.9 53.57) scale(0.9 1)">70</text>
<text class="ky" transform="translate(199.9 32.6) scale(0.9 1)">80</text>
<text class="t" x="273.4" y="10.4">(b) low, op</text>
<text class="t" x="273.4" y="175.5">Temperature (°C)</text>
<g clip-path="url(#cpc)"><g filter="url(#cmc)">
<rect x="370.8" y="6.6" width="147.6" height="146.8" fill="#000"/>
<path d="M388.74 47.31 L396.27 47.92 L402.38 51.38 L409.51 57.49 L416.64 63.6 L422.75 73.79 L423.77 79.9 L418.68 77.86 L411.55 70.73 L405.44 67.68 L400.35 65.64 L395.26 60.55 L391.18 55.46Z" fill="rgb(69,0,0)" stroke="rgb(69,0,0)" stroke-width="1.2" stroke-linejoin="round"/>
<ellipse cx="393.22" cy="49.35" rx="2.85" ry="2.85" fill="rgb(69,0,0)"/>
<ellipse cx="393.22" cy="49.35" rx="1.22" ry="1.22" fill="rgb(0,0,0)"/>
<path d="M396.27 60.55 L402.38 69.71 L405.44 75.82" stroke="rgb(65,0,0)" stroke-width="4.48" stroke-linecap="round" stroke-linejoin="round" fill="none"/>
<ellipse cx="404.42" cy="73.18" rx="1.43" ry="1.43" fill="rgb(0,0,0)"/>
<path d="M409.51 78.88 L415.62 89.06 L423.77 93.14 L431.92 97.21 L440.06 104.34" stroke="rgb(65,0,0)" stroke-width="3.87" stroke-linecap="round" stroke-linejoin="round" fill="none"/>
<path d="M416.64 98.23 L422.75 92.12" stroke="rgb(61,0,0)" stroke-width="1.22" stroke-linecap="round" stroke-linejoin="round" fill="none"/>
<path d="M442.1 101.28 L448.21 97.21 L453.3 89.06 L457.37 78.88 L459.41 71.75" stroke="rgb(65,0,0)" stroke-width="3.05" stroke-linecap="round" stroke-linejoin="round" fill="none"/>
<ellipse cx="434.97" cy="75.82" rx="2.44" ry="1.02" fill="rgb(107,0,0)" transform="rotate(-40 434.97 75.82)"/>
<ellipse cx="446.17" cy="89.06" rx="1.22" ry="1.22" fill="rgb(107,0,0)"/>
<ellipse cx="446.17" cy="106.99" rx="1.02" ry="0.81" fill="rgb(107,0,0)"/>
<path d="M394.24 56.48 L401.37 59.53 L409.51 62.59 L415.62 68.7 L418.68 72.77" stroke="rgb(43,71,0)" stroke-width="3.05" stroke-linecap="round" stroke-linejoin="round" fill="none"/>
<ellipse cx="398.31" cy="57.49" rx="1.43" ry="1.43" fill="rgb(43,87,0)"/>
<ellipse cx="401.37" cy="62.59" rx="1.43" ry="1.43" fill="rgb(43,87,0)"/>
<ellipse cx="406.46" cy="60.55" rx="1.22" ry="1.22" fill="rgb(43,84,0)"/>
<ellipse cx="443.12" cy="99.86" rx="1.43" ry="1.22" fill="rgb(43,69,0)"/>
<path d="M478.93 34.83 L483.64 30.12 L488.34 29.18 L493.99 32.95 L499.64 33.89 L502.47 40.48 L501.53 48.02 L496.82 52.72 L493.99 59.31 L490.23 63.08 L485.52 60.26 L482.69 53.66 L478.93 48.02 L477.42 40.48Z" fill="rgb(74,0,0)"/>
<ellipse cx="491.73" cy="41.99" rx="11.11" ry="11.86" fill="rgb(43,69,0)"/>
<ellipse cx="492.3" cy="41.61" rx="8.85" ry="9.04" fill="rgb(43,94,0)"/>
<ellipse cx="492.49" cy="41.61" rx="8.66" ry="8.66" fill="rgb(43,66,128)"/>
<ellipse cx="492.49" cy="41.42" rx="7.16" ry="6.78" fill="rgb(43,66,168)"/>
<ellipse cx="493.24" cy="41.24" rx="4.52" ry="3.95" fill="rgb(43,66,194)"/>
<ellipse cx="495.12" cy="40.11" rx="0.94" ry="1.88" fill="rgb(43,66,247)" transform="rotate(10 495.12 40.11)"/>
<path d="M466.69 61.2 L471.02 54.61 L475.16 47.07 L477.99 39.54" stroke="rgb(65,0,0)" stroke-width="2.82" stroke-linecap="round" stroke-linejoin="round" fill="none"/>
<path d="M486.46 63.08 L486.46 78.15 L489.29 88.5" stroke="rgb(65,0,0)" stroke-width="5.65" stroke-linecap="round" stroke-linejoin="round" fill="none"/>
<path d="M495.88 63.08 L496.82 72.5 L498.7 78.15" stroke="rgb(65,0,0)" stroke-width="4.14" stroke-linecap="round" stroke-linejoin="round" fill="none"/>
<path d="M489.29 59.31 L488.34 72.5 L487.4 89.45" stroke="rgb(74,0,0)" stroke-width="4.14" stroke-linecap="round" stroke-linejoin="round" fill="none"/>
<path d="M489.85 53.66 L488.72 64.96 L488.34 74.38" stroke="rgb(43,69,0)" stroke-width="2.45" stroke-linecap="round" stroke-linejoin="round" fill="none"/>
<path d="M463.86 47.07 L470.45 45.19" stroke="rgb(65,0,0)" stroke-width="1.88" stroke-linecap="round" stroke-linejoin="round" fill="none"/>
<path d="M473.28 34.83 L471.4 40.48" stroke="rgb(61,0,0)" stroke-width="0.94" stroke-linecap="round" stroke-linejoin="round" fill="none"/>
<path d="M469.51 56.49 L472.34 54.61" stroke="rgb(65,0,0)" stroke-width="1.88" stroke-linecap="round" stroke-linejoin="round" fill="none"/>
<ellipse cx="463.86" cy="60.26" rx="1.13" ry="1.13" fill="rgb(107,0,0)"/>
<ellipse cx="458.21" cy="71.56" rx="1.13" ry="1.88" fill="rgb(107,0,0)"/>
<path d="M456.33 79.09 L453.5 87.56" stroke="rgb(65,0,0)" stroke-width="2.26" stroke-linecap="round" stroke-linejoin="round" fill="none"/>
<ellipse cx="498.7" cy="80.03" rx="2.82" ry="4.71" fill="rgb(69,0,0)"/>
<ellipse cx="459.15" cy="71.88" rx="1.51" ry="1.51" fill="rgb(107,0,0)"/>
<ellipse cx="445.97" cy="88.83" rx="1.32" ry="1.32" fill="rgb(107,0,0)"/>
<ellipse cx="445.97" cy="107.29" rx="1.51" ry="1.13" fill="rgb(107,0,0)"/>
<ellipse cx="425.26" cy="114.82" rx="1.51" ry="1.51" fill="rgb(107,0,0)"/>
<ellipse cx="429.59" cy="119.34" rx="1.51" ry="2.07" fill="rgb(78,0,0)"/>
<ellipse cx="436.56" cy="128" rx="2.45" ry="1.32" fill="rgb(78,0,0)"/>
<path d="M489.29 70 L487.4 81.3 L489.29 90.72 L488.34 98.25" stroke="rgb(74,0,0)" stroke-width="4.71" stroke-linecap="round" stroke-linejoin="round" fill="none"/>
<path d="M489.29 70 L488.72 77.53" stroke="rgb(43,69,0)" stroke-width="2.26" stroke-linecap="round" stroke-linejoin="round" fill="none"/>
<ellipse cx="498.14" cy="81.3" rx="3.39" ry="5.65" fill="rgb(69,0,0)"/>
</g></g>
<rect class="bx" x="390.3" y="45.5" width="33.3" height="36.5"/>
<rect class="bx" x="477.3" y="27.6" width="29.7" height="35.6"/>
<path class="tk" d="M384.33 143.4 v1.7 M384.33 16.6 v-1.7 M388.36 143.4 v1.7 M388.36 16.6 v-1.7 M392.39 143.4 v1.7 M392.39 16.6 v-1.7 M396.42 143.4 v1.7 M396.42 16.6 v-1.7 M400.45 143.4 v3.8 M400.45 16.6 v-3.8 M404.48 143.4 v1.7 M404.48 16.6 v-1.7 M408.51 143.4 v1.7 M408.51 16.6 v-1.7 M412.54 143.4 v1.7 M412.54 16.6 v-1.7 M416.57 143.4 v1.7 M416.57 16.6 v-1.7 M420.6 143.4 v3.8 M420.6 16.6 v-3.8 M424.63 143.4 v1.7 M424.63 16.6 v-1.7 M428.66 143.4 v1.7 M428.66 16.6 v-1.7 M432.69 143.4 v1.7 M432.69 16.6 v-1.7 M436.72 143.4 v1.7 M436.72 16.6 v-1.7 M440.75 143.4 v3.8 M440.75 16.6 v-3.8 M444.78 143.4 v1.7 M444.78 16.6 v-1.7 M448.81 143.4 v1.7 M448.81 16.6 v-1.7 M452.84 143.4 v1.7 M452.84 16.6 v-1.7 M456.87 143.4 v1.7 M456.87 16.6 v-1.7 M460.9 143.4 v3.8 M460.9 16.6 v-3.8 M464.93 143.4 v1.7 M464.93 16.6 v-1.7 M468.96 143.4 v1.7 M468.96 16.6 v-1.7 M472.99 143.4 v1.7 M472.99 16.6 v-1.7 M477.02 143.4 v1.7 M477.02 16.6 v-1.7 M481.05 143.4 v3.8 M481.05 16.6 v-3.8 M485.08 143.4 v1.7 M485.08 16.6 v-1.7 M489.11 143.4 v1.7 M489.11 16.6 v-1.7 M493.14 143.4 v1.7 M493.14 16.6 v-1.7 M497.17 143.4 v1.7 M497.17 16.6 v-1.7 M501.2 143.4 v3.8 M501.2 16.6 v-3.8 M505.23 143.4 v1.7 M505.23 16.6 v-1.7 M380.8 141.22 h-1.7 M508.4 141.22 h1.7 M380.8 137 h-3.8 M508.4 137 h3.8 M380.8 132.78 h-1.7 M508.4 132.78 h1.7 M380.8 128.57 h-1.7 M508.4 128.57 h1.7 M380.8 124.35 h-1.7 M508.4 124.35 h1.7 M380.8 120.14 h-1.7 M508.4 120.14 h1.7 M380.8 115.92 h-3.8 M508.4 115.92 h3.8 M380.8 111.7 h-1.7 M508.4 111.7 h1.7 M380.8 107.49 h-1.7 M508.4 107.49 h1.7 M380.8 103.27 h-1.7 M508.4 103.27 h1.7 M380.8 99.06 h-1.7 M508.4 99.06 h1.7 M380.8 94.84 h-3.8 M508.4 94.84 h3.8 M380.8 90.62 h-1.7 M508.4 90.62 h1.7 M380.8 86.41 h-1.7 M508.4 86.41 h1.7 M380.8 82.19 h-1.7 M508.4 82.19 h1.7 M380.8 77.98 h-1.7 M508.4 77.98 h1.7 M380.8 73.76 h-3.8 M508.4 73.76 h3.8 M380.8 69.54 h-1.7 M508.4 69.54 h1.7 M380.8 65.33 h-1.7 M508.4 65.33 h1.7 M380.8 61.11 h-1.7 M508.4 61.11 h1.7 M380.8 56.9 h-1.7 M508.4 56.9 h1.7 M380.8 52.68 h-3.8 M508.4 52.68 h3.8 M380.8 48.46 h-1.7 M508.4 48.46 h1.7 M380.8 44.25 h-1.7 M508.4 44.25 h1.7 M380.8 40.03 h-1.7 M508.4 40.03 h1.7 M380.8 35.82 h-1.7 M508.4 35.82 h1.7 M380.8 31.6 h-3.8 M508.4 31.6 h3.8 M380.8 27.38 h-1.7 M508.4 27.38 h1.7 M380.8 23.17 h-1.7 M508.4 23.17 h1.7 M380.8 18.95 h-1.7 M508.4 18.95 h1.7"/>
<rect class="ax" x="380.8" y="16.6" width="127.6" height="126.8"/>
<text class="k" transform="translate(400.45 159.9) scale(0.9 1)">-5</text>
<text class="k" transform="translate(420.6 159.9) scale(0.9 1)">0</text>
<text class="k" transform="translate(440.75 159.9) scale(0.9 1)">5</text>
<text class="k" transform="translate(460.9 159.9) scale(0.9 1)">10</text>
<text class="k" transform="translate(481.05 159.9) scale(0.9 1)">15</text>
<text class="k" transform="translate(501.2 159.9) scale(0.9 1)">20</text>
<text class="ky" transform="translate(370.9 140.3) scale(0.9 1)">30</text>
<text class="ky" transform="translate(370.9 119.22) scale(0.9 1)">40</text>
<text class="ky" transform="translate(370.9 98.14) scale(0.9 1)">50</text>
<text class="ky" transform="translate(370.9 77.06) scale(0.9 1)">60</text>
<text class="ky" transform="translate(370.9 55.98) scale(0.9 1)">70</text>
<text class="ky" transform="translate(370.9 34.9) scale(0.9 1)">80</text>
<text class="t" x="444.6" y="10.4">(c) Sc</text>
<text class="t" x="444.6" y="175.5">Temperature (°C)</text>
<g clip-path="url(#cpd)"><g filter="url(#cmd)">
<rect x="542.8" y="6.6" width="146.7" height="146.8" fill="#000"/>
<path d="M563.3 50.84 L567.07 54.61 L571.77 55.55 L574.6 58.37 L577.42 57.43 L580.25 61.2 L584.39 65.34 L583.64 69.67 L580.25 67.79 L577.42 66.85 L574.6 65.34 L570.83 63.08 L568.01 58.37 L565.18 54.61Z" fill="rgb(54,0,0)" stroke="rgb(54,0,0)" stroke-width="1.4" stroke-linejoin="round"/>
<ellipse cx="577.05" cy="70.99" rx="1.13" ry="0.94" fill="rgb(102,0,0)"/>
<path d="M649.93 36.72 L654.64 33.89 L659.34 29.18 L664.99 28.24 L670.64 27.3 L673.47 31.07 L674.03 38.6 L672.53 44.25 L668.76 47.07 L665.94 44.25 L664.99 39.54 L659.34 39.54 L654.64 40.48 L650.87 38.98Z" fill="rgb(54,0,0)" stroke="rgb(54,0,0)" stroke-width="1.6" stroke-linejoin="round"/>
<path d="M655.58 34.83 L660.29 31.07 L664.99 30.69 L669.7 28.24 L672.9 32.01 L672.9 40.48 L670.64 45.19 L667.25 44.25 L665.94 38.6 L661.23 37.66 L656.52 37.09Z" fill="rgb(43,71,0)" stroke="rgb(43,71,0)" stroke-width="1.2" stroke-linejoin="round"/>
<ellipse cx="669.14" cy="35.77" rx="4.14" ry="8.66" fill="rgb(43,66,102)"/>
<ellipse cx="669.51" cy="35.02" rx="3.01" ry="6.78" fill="rgb(43,66,138)"/>
<ellipse cx="669.51" cy="34.64" rx="2.07" ry="4.52" fill="rgb(43,66,178)"/>
<ellipse cx="669.51" cy="34.46" rx="1.32" ry="2.45" fill="rgb(43,66,219)"/>
<ellipse cx="669.51" cy="34.46" rx="0.66" ry="0.75" fill="rgb(43,66,255)"/>
<ellipse cx="645.79" cy="40.11" rx="1.32" ry="1.51" fill="rgb(115,0,0)"/>
<ellipse cx="630.15" cy="68.17" rx="1.13" ry="1.13" fill="rgb(115,0,0)"/>
<ellipse cx="627.71" cy="80.97" rx="1.32" ry="1.51" fill="rgb(115,0,0)"/>
<ellipse cx="659.34" cy="63.08" rx="1.13" ry="1.13" fill="rgb(115,0,0)"/>
<ellipse cx="672.15" cy="64.96" rx="0.94" ry="1.69" fill="rgb(115,0,0)"/>
<ellipse cx="672.53" cy="73.44" rx="1.32" ry="2.45" fill="rgb(115,0,0)"/>
<ellipse cx="671.96" cy="78.15" rx="0.94" ry="1.13" fill="rgb(115,0,0)"/>
<ellipse cx="589.66" cy="77.21" rx="1.13" ry="1.13" fill="rgb(115,0,0)"/>
</g></g>
<rect class="bx" x="561.6" y="46.7" width="28.2" height="28.6"/>
<rect class="bx" x="647.2" y="23.6" width="28.5" height="27.6"/>
<path class="tk" d="M555.8 143.4 v1.7 M555.8 16.6 v-1.7 M559.7 143.4 v1.7 M559.7 16.6 v-1.7 M563.6 143.4 v1.7 M563.6 16.6 v-1.7 M567.5 143.4 v1.7 M567.5 16.6 v-1.7 M571.4 143.4 v3.8 M571.4 16.6 v-3.8 M575.3 143.4 v1.7 M575.3 16.6 v-1.7 M579.2 143.4 v1.7 M579.2 16.6 v-1.7 M583.1 143.4 v1.7 M583.1 16.6 v-1.7 M587 143.4 v1.7 M587 16.6 v-1.7 M590.9 143.4 v3.8 M590.9 16.6 v-3.8 M594.8 143.4 v1.7 M594.8 16.6 v-1.7 M598.7 143.4 v1.7 M598.7 16.6 v-1.7 M602.6 143.4 v1.7 M602.6 16.6 v-1.7 M606.5 143.4 v1.7 M606.5 16.6 v-1.7 M610.4 143.4 v3.8 M610.4 16.6 v-3.8 M614.3 143.4 v1.7 M614.3 16.6 v-1.7 M618.2 143.4 v1.7 M618.2 16.6 v-1.7 M622.1 143.4 v1.7 M622.1 16.6 v-1.7 M626 143.4 v1.7 M626 16.6 v-1.7 M629.9 143.4 v3.8 M629.9 16.6 v-3.8 M633.8 143.4 v1.7 M633.8 16.6 v-1.7 M637.7 143.4 v1.7 M637.7 16.6 v-1.7 M641.6 143.4 v1.7 M641.6 16.6 v-1.7 M645.5 143.4 v1.7 M645.5 16.6 v-1.7 M649.4 143.4 v3.8 M649.4 16.6 v-3.8 M653.3 143.4 v1.7 M653.3 16.6 v-1.7 M657.2 143.4 v1.7 M657.2 16.6 v-1.7 M661.1 143.4 v1.7 M661.1 16.6 v-1.7 M665 143.4 v1.7 M665 16.6 v-1.7 M668.9 143.4 v3.8 M668.9 16.6 v-3.8 M672.8 143.4 v1.7 M672.8 16.6 v-1.7 M676.7 143.4 v1.7 M676.7 16.6 v-1.7 M552.8 139.46 h-1.7 M679.5 139.46 h1.7 M552.8 135.3 h-3.8 M679.5 135.3 h3.8 M552.8 131.14 h-1.7 M679.5 131.14 h1.7 M552.8 126.98 h-1.7 M679.5 126.98 h1.7 M552.8 122.82 h-1.7 M679.5 122.82 h1.7 M552.8 118.66 h-1.7 M679.5 118.66 h1.7 M552.8 114.5 h-3.8 M679.5 114.5 h3.8 M552.8 110.34 h-1.7 M679.5 110.34 h1.7 M552.8 106.18 h-1.7 M679.5 106.18 h1.7 M552.8 102.02 h-1.7 M679.5 102.02 h1.7 M552.8 97.86 h-1.7 M679.5 97.86 h1.7 M552.8 93.7 h-3.8 M679.5 93.7 h3.8 M552.8 89.54 h-1.7 M679.5 89.54 h1.7 M552.8 85.38 h-1.7 M679.5 85.38 h1.7 M552.8 81.22 h-1.7 M679.5 81.22 h1.7 M552.8 77.06 h-1.7 M679.5 77.06 h1.7 M552.8 72.9 h-3.8 M679.5 72.9 h3.8 M552.8 68.74 h-1.7 M679.5 68.74 h1.7 M552.8 64.58 h-1.7 M679.5 64.58 h1.7 M552.8 60.42 h-1.7 M679.5 60.42 h1.7 M552.8 56.26 h-1.7 M679.5 56.26 h1.7 M552.8 52.1 h-3.8 M679.5 52.1 h3.8 M552.8 47.94 h-1.7 M679.5 47.94 h1.7 M552.8 43.78 h-1.7 M679.5 43.78 h1.7 M552.8 39.62 h-1.7 M679.5 39.62 h1.7 M552.8 35.46 h-1.7 M679.5 35.46 h1.7 M552.8 31.3 h-3.8 M679.5 31.3 h3.8 M552.8 27.14 h-1.7 M679.5 27.14 h1.7 M552.8 22.98 h-1.7 M679.5 22.98 h1.7 M552.8 18.82 h-1.7 M679.5 18.82 h1.7"/>
<rect class="ax" x="552.8" y="16.6" width="126.7" height="126.8"/>
<text class="k" transform="translate(571.4 159.9) scale(0.9 1)">-5</text>
<text class="k" transform="translate(590.9 159.9) scale(0.9 1)">0</text>
<text class="k" transform="translate(610.4 159.9) scale(0.9 1)">5</text>
<text class="k" transform="translate(629.9 159.9) scale(0.9 1)">10</text>
<text class="k" transform="translate(649.4 159.9) scale(0.9 1)">15</text>
<text class="k" transform="translate(668.9 159.9) scale(0.9 1)">20</text>
<text class="ky" transform="translate(542.9 138.6) scale(0.9 1)">30</text>
<text class="ky" transform="translate(542.9 117.8) scale(0.9 1)">40</text>
<text class="ky" transform="translate(542.9 97) scale(0.9 1)">50</text>
<text class="ky" transform="translate(542.9 76.2) scale(0.9 1)">60</text>
<text class="ky" transform="translate(542.9 55.4) scale(0.9 1)">70</text>
<text class="ky" transform="translate(542.9 34.6) scale(0.9 1)">80</text>
<text class="t" x="616.15" y="10.4">(d) Fc</text>
<text class="t" x="616.15" y="175.5">Temperature (°C)</text>
<g clip-path="url(#cpe)"><g filter="url(#cme)">
<rect x="113.5" y="187" width="147.7" height="147" fill="#000"/>
<path d="M127.77 216.72 L133.42 215.77 L138.12 222.37 L146.6 227.07 L152.25 233.66 L157.9 243.08 L164.49 242.14 L170.14 235.55 L173.91 243.08 L171.08 250.61 L178.61 254.38 L178.61 270.01 L142.83 270.01 L137.18 258.15 L132.47 246.85 L129.65 233.66 L126.82 222.37Z" fill="rgb(41,0,0)"/>
<path d="M204.98 212.95 L212.51 209.18 L218.16 199.77 L223.81 198.82 L229.46 207.3 L235.11 220.48 L236.99 233.66 L239.82 248.73 L241.7 270.01 L203.1 270.01 L204.04 258.15 L206.86 244.96 L204.98 229.9Z" fill="rgb(41,0,0)"/>
<path d="M180.5 236.49 L182.38 239.31" stroke="rgb(38,0,0)" stroke-width="2.26" stroke-linecap="round" stroke-linejoin="round" fill="none"/>
<path d="M186.15 254.38 L201.21 258.15" stroke="rgb(38,0,0)" stroke-width="3.01" stroke-linecap="round" stroke-linejoin="round" fill="none"/>
<path d="M182.38 268.5 L199.33 268.5" stroke="rgb(38,0,0)" stroke-width="3.39" stroke-linecap="round" stroke-linejoin="round" fill="none"/>
<path d="M135.3 250 L178.61 250 L180.5 261.3 L178.61 272.6 L180.5 283.9 L177.67 297.08 L167.31 298.02 L159.78 295.2 L152.25 287.66 L146.6 278.25 L140.95 266.95 L137.18 257.53Z" fill="rgb(41,0,0)"/>
<path d="M180.5 266.95 L188.03 263.18 L195.56 261.3 L201.21 268.83 L202.15 278.25 L199.33 285.78 L203.1 293.31 L195.56 297.08 L188.03 295.2 L182.38 287.66 L179.56 278.25Z" fill="rgb(41,0,0)"/>
<path d="M204.04 250 L242.64 250 L246.41 261.3 L247.35 274.48 L244.53 287.66 L236.99 295.2 L229.46 304.61 L218.16 304.61 L208.75 298.96 L204.98 287.66 L203.1 268.83Z" fill="rgb(41,0,0)"/>
<ellipse cx="221.93" cy="319.68" rx="1.69" ry="2.82" fill="rgb(107,0,0)"/>
<path d="M207.8 299.91 L218.16 303.67 L229.46 304.61 L236.99 301.79" stroke="rgb(43,0,0)" stroke-width="4.14" stroke-linecap="round" stroke-linejoin="round" fill="none"/>
<ellipse cx="221.93" cy="303.67" rx="2.64" ry="1.69" fill="rgb(43,61,0)"/>
<ellipse cx="212.51" cy="314.03" rx="1.32" ry="1.32" fill="rgb(107,0,0)"/>
<ellipse cx="233.23" cy="315.91" rx="1.32" ry="1.13" fill="rgb(107,0,0)"/>
<ellipse cx="248.29" cy="269.77" rx="1.13" ry="1.13" fill="rgb(107,0,0)"/>
<ellipse cx="152.25" cy="295.2" rx="1.13" ry="1.13" fill="rgb(107,0,0)"/>
<ellipse cx="204.98" cy="303.67" rx="1.13" ry="1.13" fill="rgb(107,0,0)"/>
<path d="M128.71 217.66 L133.42 217.66 L137.18 224.25 L144.72 228.02 L149.42 231.78 L152.25 241.2 L156.96 250.61 L161.66 258.15 L163.55 270.01 L146.6 270.01 L141.89 260.03 L137.18 250.61 L133.42 239.31 L130.59 228.02Z" fill="rgb(43,58,0)" stroke="rgb(43,58,0)" stroke-width="2" stroke-linejoin="round"/>
<path d="M138.12 250 L161.66 250 L167.31 261.3 L173.91 272.6 L178.61 282.02 L177.67 295.2 L169.2 297.08 L161.66 292.37 L155.07 283.9 L149.42 272.6 L143.77 261.3Z" fill="rgb(43,58,0)" stroke="rgb(43,58,0)" stroke-width="2" stroke-linejoin="round"/>
<path d="M216.28 209.18 L221.93 203.53 L226.64 207.3 L231.34 216.72 L234.17 229.9 L236.99 244.96 L239.82 258.15 L240.76 270.01 L214.4 270.01 L214.4 258.15 L217.22 246.85 L218.16 233.66 L216.28 220.48Z" fill="rgb(43,58,0)" stroke="rgb(43,58,0)" stroke-width="2" stroke-linejoin="round"/>
<path d="M214.4 250 L241.7 250 L244.53 265.07 L244.53 278.25 L239.82 287.66 L231.34 290.49 L221.93 287.66 L216.28 278.25 L212.51 266.95 L216.28 257.53Z" fill="rgb(43,58,0)" stroke="rgb(43,58,0)" stroke-width="2" stroke-linejoin="round"/>
<ellipse cx="186.15" cy="278.25" rx="2.82" ry="2.26" fill="rgb(43,59,0)"/>
<ellipse cx="199.33" cy="272.6" rx="1.88" ry="2.26" fill="rgb(43,59,0)"/>
<ellipse cx="221.93" cy="303.67" rx="1.51" ry="1.13" fill="rgb(43,59,0)"/>
<path d="M135.3 228.02 L140.95 241.2 L148.48 254.38 L155.07 269.45" stroke="rgb(43,68,0)" stroke-width="3.95" stroke-linecap="round" stroke-linejoin="round" fill="none"/>
<ellipse cx="131.91" cy="219.54" rx="2.26" ry="2.26" fill="rgb(43,67,0)"/>
<path d="M146.6 250 L152.25 261.3 L158.84 274.48 L166.37 287.66 L171.08 295.2" stroke="rgb(43,68,0)" stroke-width="3.95" stroke-linecap="round" stroke-linejoin="round" fill="none"/>
<ellipse cx="173.91" cy="283.9" rx="3.39" ry="3.39" fill="rgb(43,67,0)"/>
<path d="M221.93 216.72 L224.75 233.66 L228.52 250.61 L231.34 269.45" stroke="rgb(43,68,0)" stroke-width="5.08" stroke-linecap="round" stroke-linejoin="round" fill="none"/>
<path d="M221.93 250 L238.88 250 L241.7 261.3 L241.7 274.48 L236.99 283.9 L229.46 286.72 L222.87 282.96 L220.99 270.72 L221.93 259.42Z" fill="rgb(43,67,0)"/>
<ellipse cx="137.18" cy="240.26" rx="1.81" ry="1.81" fill="rgb(43,66,148)"/>
<ellipse cx="147.54" cy="241.2" rx="1.58" ry="1.58" fill="rgb(43,66,148)"/>
<ellipse cx="149.42" cy="252.5" rx="2.26" ry="4.97" fill="rgb(43,66,138)" transform="rotate(-25 149.42 252.5)"/>
<ellipse cx="152.25" cy="268.5" rx="2.26" ry="2.26" fill="rgb(43,66,140)"/>
<path d="M147.54 251.88 L153.19 263.18 L158.84 274.48 L161.66 280.13" stroke="rgb(43,66,130)" stroke-width="3.95" stroke-linecap="round" stroke-linejoin="round" fill="none"/>
<path d="M137.56 240.26 L142.83 250.61 L149.42 261.91 L152.25 268.5" stroke="rgb(43,66,128)" stroke-width="2.9" stroke-linecap="round" stroke-linejoin="round" fill="none"/>
<ellipse cx="148.48" cy="252.82" rx="2.71" ry="4.52" fill="rgb(43,66,140)" transform="rotate(-20 148.48 252.82)"/>
<ellipse cx="158.84" cy="285.78" rx="2.71" ry="1.13" fill="rgb(43,66,140)" transform="rotate(30 158.84 285.78)"/>
<path d="M223.25 222.37 L225.69 237.43 L229.46 252.5 L232.29 263.8" stroke="rgb(43,66,130)" stroke-width="3.43" stroke-linecap="round" stroke-linejoin="round" fill="none"/>
<path d="M224.75 250 L235.11 250 L236.99 259.42 L237.94 270.72 L235.11 280.13 L228.52 284.84 L223.81 281.07 L224.75 268.83 L223.81 257.53Z" fill="rgb(43,66,130)"/>
<ellipse cx="223.44" cy="224.25" rx="1.58" ry="2.71" fill="rgb(43,66,166)"/>
<ellipse cx="226.64" cy="238.37" rx="1.13" ry="1.13" fill="rgb(43,66,153)"/>
<ellipse cx="232.85" cy="259.09" rx="2.71" ry="2.03" fill="rgb(43,66,166)"/>
<ellipse cx="227.2" cy="267.19" rx="2.71" ry="1.81" fill="rgb(43,66,171)"/>
<ellipse cx="229.46" cy="258.47" rx="2.94" ry="1.81" fill="rgb(43,66,153)"/>
<ellipse cx="226.64" cy="266.95" rx="2.03" ry="1.36" fill="rgb(43,66,153)"/>
<ellipse cx="228.52" cy="277.31" rx="4.97" ry="6.1" fill="rgb(43,66,145)"/>
<ellipse cx="228.71" cy="279.57" rx="3.17" ry="3.38" fill="rgb(43,66,194)"/>
<ellipse cx="228.14" cy="280.32" rx="1.36" ry="1.36" fill="rgb(43,66,230)"/>
</g></g>
<g clip-path="url(#cpe)">
<path class="ln" d="M124.5 212.6 L182.3 323.6"/>
<path class="ln" d="M214.9 196.5 L244.4 323.6"/>
</g>
<rect class="bx" x="125.8" y="213.3" width="53.4" height="85.6"/>
<rect class="bx" x="203.4" y="207.5" width="37.9" height="90.7"/>
<path class="tk" d="M126.69 324 v1.7 M126.69 197 v-1.7 M131.48 324 v1.7 M131.48 197 v-1.7 M136.27 324 v1.7 M136.27 197 v-1.7 M141.06 324 v3.8 M141.06 197 v-3.8 M145.85 324 v1.7 M145.85 197 v-1.7 M150.64 324 v1.7 M150.64 197 v-1.7 M155.43 324 v1.7 M155.43 197 v-1.7 M160.22 324 v3.8 M160.22 197 v-3.8 M165.01 324 v1.7 M165.01 197 v-1.7 M169.8 324 v1.7 M169.8 197 v-1.7 M174.59 324 v1.7 M174.59 197 v-1.7 M179.38 324 v3.8 M179.38 197 v-3.8 M184.17 324 v1.7 M184.17 197 v-1.7 M188.96 324 v1.7 M188.96 197 v-1.7 M193.75 324 v1.7 M193.75 197 v-1.7 M198.54 324 v3.8 M198.54 197 v-3.8 M203.33 324 v1.7 M203.33 197 v-1.7 M208.12 324 v1.7 M208.12 197 v-1.7 M212.91 324 v1.7 M212.91 197 v-1.7 M217.7 324 v3.8 M217.7 197 v-3.8 M222.49 324 v1.7 M222.49 197 v-1.7 M227.28 324 v1.7 M227.28 197 v-1.7 M232.07 324 v1.7 M232.07 197 v-1.7 M236.86 324 v3.8 M236.86 197 v-3.8 M241.65 324 v1.7 M241.65 197 v-1.7 M246.44 324 v1.7 M246.44 197 v-1.7 M251.23 324 v1.7 M251.23 197 v-1.7 M123.5 320.3 h-3.8 M251.2 320.3 h3.8 M123.5 315.22 h-1.7 M251.2 315.22 h1.7 M123.5 310.14 h-1.7 M251.2 310.14 h1.7 M123.5 305.06 h-1.7 M251.2 305.06 h1.7 M123.5 299.98 h-1.7 M251.2 299.98 h1.7 M123.5 294.9 h-3.8 M251.2 294.9 h3.8 M123.5 289.82 h-1.7 M251.2 289.82 h1.7 M123.5 284.74 h-1.7 M251.2 284.74 h1.7 M123.5 279.66 h-1.7 M251.2 279.66 h1.7 M123.5 274.58 h-1.7 M251.2 274.58 h1.7 M123.5 269.5 h-3.8 M251.2 269.5 h3.8 M123.5 264.42 h-1.7 M251.2 264.42 h1.7 M123.5 259.34 h-1.7 M251.2 259.34 h1.7 M123.5 254.26 h-1.7 M251.2 254.26 h1.7 M123.5 249.18 h-1.7 M251.2 249.18 h1.7 M123.5 244.1 h-3.8 M251.2 244.1 h3.8 M123.5 239.02 h-1.7 M251.2 239.02 h1.7 M123.5 233.94 h-1.7 M251.2 233.94 h1.7 M123.5 228.86 h-1.7 M251.2 228.86 h1.7 M123.5 223.78 h-1.7 M251.2 223.78 h1.7 M123.5 218.7 h-3.8 M251.2 218.7 h3.8 M123.5 213.62 h-1.7 M251.2 213.62 h1.7 M123.5 208.54 h-1.7 M251.2 208.54 h1.7 M123.5 203.46 h-1.7 M251.2 203.46 h1.7 M123.5 198.38 h-1.7 M251.2 198.38 h1.7"/>
<rect class="ax" x="123.5" y="197" width="127.7" height="127"/>
<text class="k" transform="translate(141.06 340.5) scale(0.9 1)">-16</text>
<text class="k" transform="translate(160.22 340.5) scale(0.9 1)">-12</text>
<text class="k" transform="translate(179.38 340.5) scale(0.9 1)">-8</text>
<text class="k" transform="translate(198.54 340.5) scale(0.9 1)">-4</text>
<text class="k" transform="translate(217.7 340.5) scale(0.9 1)">0</text>
<text class="k" transform="translate(236.86 340.5) scale(0.9 1)">4</text>
<text class="ky" transform="translate(113.6 323.6) scale(0.9 1)">30</text>
<text class="ky" transform="translate(113.6 298.2) scale(0.9 1)">40</text>
<text class="ky" transform="translate(113.6 272.8) scale(0.9 1)">50</text>
<text class="ky" transform="translate(113.6 247.4) scale(0.9 1)">60</text>
<text class="ky" transform="translate(113.6 222) scale(0.9 1)">70</text>
<text class="t" x="187.35" y="190.8">(e) Ac,tra</text>
<text class="t" x="187.35" y="356.1">Temperature (°C)</text>
<text class="t" style="font-size:11.7px" transform="translate(96.3 261.3) rotate(-90)">Relative Humidity (%)</text>
<g clip-path="url(#cpf)"><g filter="url(#cmf)">
<rect x="285.2" y="187" width="147.5" height="147" fill="#000"/>
<path d="M298.77 220.48 L306.3 219.54 L313.83 224.25 L319.48 229.9 L323.25 239.31 L332.66 239.31 L339.26 238.37 L342.08 244.96 L341.14 270.01 L302.53 270.01 L301.59 258.15 L303.47 248.73 L299.71 237.43 L297.82 228.02Z" fill="rgb(43,0,0)"/>
<path d="M376.36 207.3 L382.57 202.59 L389.16 205.42 L394.44 203.53 L395.75 216.72 L398.58 229.9 L405.17 243.08 L411.76 252.5 L417.41 261.91 L417.41 270.01 L372.21 270.01 L371.27 260.03 L378.24 250.61 L378.24 239.31 L376.92 226.13 L375.98 214.83Z" fill="rgb(41,0,0)"/>
<ellipse cx="345.85" cy="245.91" rx="1.51" ry="1.51" fill="rgb(107,0,0)"/>
<ellipse cx="349.61" cy="251.56" rx="0.94" ry="0.94" fill="rgb(107,0,0)"/>
<path d="M302.53 250 L342.08 250 L342.08 261.3 L341.14 274.48 L343.02 285.78 L349.61 294.26 L357.15 295.2 L364.68 287.66 L367.5 280.13 L368.45 285.78 L364.68 293.31 L357.15 298.02 L349.61 297.08 L342.08 290.49 L332.66 286.72 L323.25 285.78 L313.83 282.02 L308.18 272.6 L305.36 261.3Z" fill="rgb(43,0,0)"/>
<path d="M349.61 278.25 L357.15 270.72 L362.8 268.83 L366.56 276.37 L367.5 282.02 L362.8 289.55 L355.26 295.2 L349.61 293.31 L343.96 287.66Z" fill="rgb(38,0,0)"/>
<path d="M370.33 250 L417.41 250 L418.35 261.3 L415.53 272.6 L411.76 283.9 L407.99 295.2 L400.46 297.08 L392.93 304.61 L383.51 304.61 L377.86 298.96 L374.1 287.66 L369.39 274.48 L372.21 261.3Z" fill="rgb(43,0,0)"/>
<path d="M370.33 308.38 L377.86 306.5 L383.51 310.26 L389.16 308.38 L396.69 312.15 L392.93 314.97 L383.51 314.03 L375.98 314.03 L371.27 312.15Z" fill="rgb(41,0,0)"/>
<ellipse cx="419.29" cy="272.6" rx="0.75" ry="0.75" fill="rgb(107,0,0)"/>
<ellipse cx="404.23" cy="303.67" rx="0.75" ry="0.75" fill="rgb(107,0,0)"/>
<path d="M300.65 224.25 L308.18 225.19 L313.83 228.02 L318.54 235.55 L323.25 243.08 L329.84 250.61 L335.49 258.15 L339.26 270.01 L311.95 270.01 L308.18 260.03 L304.42 248.73 L302.53 237.43 L300.65 230.84Z" fill="rgb(43,58,0)" stroke="rgb(43,58,0)" stroke-width="2" stroke-linejoin="round"/>
<path d="M379.37 212.01 L383.51 207.68 L390.1 209.56 L392.55 218.6 L394.44 229.9 L397.64 241.2 L405.17 250.61 L410.82 260.03 L413.27 270.01 L378.8 270.01 L380.69 258.15 L383.14 248.73 L381.63 237.43 L379.37 224.25Z" fill="rgb(43,58,0)" stroke="rgb(43,58,0)" stroke-width="1" stroke-linejoin="round"/>
<path d="M308.18 250 L339.26 250 L340.2 261.3 L339.26 272.6 L341.14 284.84 L335.49 285.78 L328.9 283.9 L321.37 280.13 L315.72 272.6 L311.95 261.3Z" fill="rgb(43,58,0)" stroke="rgb(43,58,0)" stroke-width="2" stroke-linejoin="round"/>
<path d="M379.75 250 L412.7 250 L415.53 259.42 L412.7 270.72 L407.99 282.02 L402.34 290.49 L392.93 292.37 L385.4 287.66 L382.57 278.25 L379.75 268.83 L377.86 259.42Z" fill="rgb(43,58,0)" stroke="rgb(43,58,0)" stroke-width="2" stroke-linejoin="round"/>
<path d="M305.36 230.84 L311.95 243.08 L319.48 254.38 L327.02 265.68" stroke="rgb(43,68,0)" stroke-width="4.52" stroke-linecap="round" stroke-linejoin="round" fill="none"/>
<path d="M383.51 220.48 L386.34 233.66 L389.16 248.73 L392.93 267.56" stroke="rgb(43,68,0)" stroke-width="5.08" stroke-linecap="round" stroke-linejoin="round" fill="none"/>
<path d="M319.48 250 L325.13 261.3 L330.78 274.48 L335.49 283.9" stroke="rgb(43,68,0)" stroke-width="3.95" stroke-linecap="round" stroke-linejoin="round" fill="none"/>
<path d="M383.51 250 L404.23 250 L407.05 261.3 L406.11 272.6 L402.34 283.9 L394.81 289.55 L388.22 285.78 L385.4 274.48 L383.51 261.3Z" fill="rgb(43,67,0)"/>
<ellipse cx="307.24" cy="230.84" rx="1.58" ry="1.58" fill="rgb(43,66,143)"/>
<ellipse cx="311.01" cy="245.91" rx="1.58" ry="3.17" fill="rgb(43,66,143)" transform="rotate(-20 311.01 245.91)"/>
<path d="M320.42 253.44 L327.02 261.91" stroke="rgb(43,66,158)" stroke-width="4.21" stroke-linecap="round" stroke-linejoin="round" fill="none"/>
<path d="M307.24 230.84 L312.89 243.08 L320.42 253.44" stroke="rgb(43,66,140)" stroke-width="2.63" stroke-linecap="round" stroke-linejoin="round" fill="none"/>
<ellipse cx="386.34" cy="228.96" rx="4.07" ry="3.17" fill="rgb(43,66,140)"/>
<ellipse cx="390.1" cy="246.85" rx="2.71" ry="2.26" fill="rgb(43,66,153)"/>
<ellipse cx="387.28" cy="252.5" rx="1.81" ry="1.81" fill="rgb(43,66,148)"/>
<ellipse cx="394.81" cy="265.68" rx="3.17" ry="3.17" fill="rgb(43,66,166)"/>
<ellipse cx="392.93" cy="267.56" rx="1.36" ry="1.36" fill="rgb(43,66,171)"/>
<path d="M320.42 252.82 L327.96 263.18" stroke="rgb(43,66,158)" stroke-width="4.21" stroke-linecap="round" stroke-linejoin="round" fill="none"/>
<ellipse cx="331.72" cy="283.9" rx="2.26" ry="1.36" fill="rgb(43,66,140)" transform="rotate(30 331.72 283.9)"/>
<ellipse cx="319.48" cy="260.36" rx="1.13" ry="1.13" fill="rgb(43,66,140)"/>
<path d="M387.28 251.88 L391.99 265.07 L393.87 276.37 L394.81 285.78" stroke="rgb(43,66,143)" stroke-width="5.8" stroke-linecap="round" stroke-linejoin="round" fill="none"/>
<ellipse cx="393.87" cy="267.89" rx="2.26" ry="4.97" fill="rgb(43,66,166)"/>
<ellipse cx="398.58" cy="280.13" rx="4.07" ry="2.26" fill="rgb(43,66,166)"/>
<ellipse cx="392.93" cy="283.9" rx="4.97" ry="4.07" fill="rgb(43,66,186)"/>
<ellipse cx="392.93" cy="284.27" rx="2.71" ry="2.26" fill="rgb(43,66,194)"/>
<ellipse cx="394.44" cy="282.96" rx="0.9" ry="0.9" fill="rgb(43,66,217)"/>
</g></g>
<g clip-path="url(#cpf)">
<path class="ln" d="M294.7 216.4 L362.4 323.6"/>
<path class="ln" d="M374.1 196.5 L406.7 323.6"/>
</g>
<rect class="bx" x="299.8" y="218.7" width="42.3" height="68"/>
<rect class="bx" x="369.6" y="205.2" width="42.2" height="88.9"/>
<path class="tk" d="M298.4 324 v3.8 M298.4 197 v-3.8 M303.28 324 v1.7 M303.28 197 v-1.7 M308.16 324 v1.7 M308.16 197 v-1.7 M313.04 324 v1.7 M313.04 197 v-1.7 M317.92 324 v1.7 M317.92 197 v-1.7 M322.8 324 v3.8 M322.8 197 v-3.8 M327.68 324 v1.7 M327.68 197 v-1.7 M332.56 324 v1.7 M332.56 197 v-1.7 M337.44 324 v1.7 M337.44 197 v-1.7 M342.32 324 v1.7 M342.32 197 v-1.7 M347.2 324 v3.8 M347.2 197 v-3.8 M352.08 324 v1.7 M352.08 197 v-1.7 M356.96 324 v1.7 M356.96 197 v-1.7 M361.84 324 v1.7 M361.84 197 v-1.7 M366.72 324 v1.7 M366.72 197 v-1.7 M371.6 324 v3.8 M371.6 197 v-3.8 M376.48 324 v1.7 M376.48 197 v-1.7 M381.36 324 v1.7 M381.36 197 v-1.7 M386.24 324 v1.7 M386.24 197 v-1.7 M391.12 324 v1.7 M391.12 197 v-1.7 M396 324 v3.8 M396 197 v-3.8 M400.88 324 v1.7 M400.88 197 v-1.7 M405.76 324 v1.7 M405.76 197 v-1.7 M410.64 324 v1.7 M410.64 197 v-1.7 M415.52 324 v1.7 M415.52 197 v-1.7 M420.4 324 v3.8 M420.4 197 v-3.8 M295.2 322.83 h-1.7 M422.7 322.83 h1.7 M295.2 317.8 h-3.8 M422.7 317.8 h3.8 M295.2 312.77 h-1.7 M422.7 312.77 h1.7 M295.2 307.74 h-1.7 M422.7 307.74 h1.7 M295.2 302.71 h-1.7 M422.7 302.71 h1.7 M295.2 297.68 h-1.7 M422.7 297.68 h1.7 M295.2 292.65 h-3.8 M422.7 292.65 h3.8 M295.2 287.62 h-1.7 M422.7 287.62 h1.7 M295.2 282.59 h-1.7 M422.7 282.59 h1.7 M295.2 277.56 h-1.7 M422.7 277.56 h1.7 M295.2 272.53 h-1.7 M422.7 272.53 h1.7 M295.2 267.5 h-3.8 M422.7 267.5 h3.8 M295.2 262.47 h-1.7 M422.7 262.47 h1.7 M295.2 257.44 h-1.7 M422.7 257.44 h1.7 M295.2 252.41 h-1.7 M422.7 252.41 h1.7 M295.2 247.38 h-1.7 M422.7 247.38 h1.7 M295.2 242.35 h-3.8 M422.7 242.35 h3.8 M295.2 237.32 h-1.7 M422.7 237.32 h1.7 M295.2 232.29 h-1.7 M422.7 232.29 h1.7 M295.2 227.26 h-1.7 M422.7 227.26 h1.7 M295.2 222.23 h-1.7 M422.7 222.23 h1.7 M295.2 217.2 h-3.8 M422.7 217.2 h3.8 M295.2 212.17 h-1.7 M422.7 212.17 h1.7 M295.2 207.14 h-1.7 M422.7 207.14 h1.7 M295.2 202.11 h-1.7 M422.7 202.11 h1.7 M295.2 197.08 h-1.7 M422.7 197.08 h1.7"/>
<rect class="ax" x="295.2" y="197" width="127.5" height="127"/>
<text class="k" transform="translate(298.4 340.5) scale(0.9 1)">-20</text>
<text class="k" transform="translate(322.8 340.5) scale(0.9 1)">-15</text>
<text class="k" transform="translate(347.2 340.5) scale(0.9 1)">-10</text>
<text class="k" transform="translate(371.6 340.5) scale(0.9 1)">-5</text>
<text class="k" transform="translate(396 340.5) scale(0.9 1)">0</text>
<text class="k" transform="translate(420.4 340.5) scale(0.9 1)">5</text>
<text class="ky" transform="translate(285.3 321.1) scale(0.9 1)">30</text>
<text class="ky" transform="translate(285.3 295.95) scale(0.9 1)">40</text>
<text class="ky" transform="translate(285.3 270.8) scale(0.9 1)">50</text>
<text class="ky" transform="translate(285.3 245.65) scale(0.9 1)">60</text>
<text class="ky" transform="translate(285.3 220.5) scale(0.9 1)">70</text>
<text class="t" x="358.95" y="190.8">(f) As, op</text>
<text class="t" x="358.95" y="356.1">Temperature (°C)</text>
<g clip-path="url(#cpg)"><g filter="url(#cmg)">
<rect x="456.2" y="187" width="147.9" height="147" fill="#000"/>
<path d="M471.67 202.88 L481.21 199.07 L500.28 199.07 L513.63 200.98 L519.35 208.6 L526.97 212.42 L527.74 225.77 L521.25 231.49 L515.53 225.77 L513.63 237.21 L509.81 250.56 L506 262 L511.72 271.53 L506 275.35 L496.46 269.63 L488.84 258.18 L481.21 244.84 L475.49 229.58 L471.67 216.23Z" fill="rgb(42,0,0)"/>
<path d="M502.18 262 L511.72 275.35 L523.16 282.97 L536.51 286.79" stroke="rgb(38,0,0)" stroke-width="7.63" stroke-linecap="round" stroke-linejoin="round" fill="none"/>
<path d="M534.6 279.92 L546.04 284.88" stroke="rgb(41,0,0)" stroke-width="5.34" stroke-linecap="round" stroke-linejoin="round" fill="none"/>
<path d="M549.86 289.46 L565.11 291.37 L582.28 289.84" stroke="rgb(41,0,0)" stroke-width="4.96" stroke-linecap="round" stroke-linejoin="round" fill="none"/>
<path d="M549.86 233.39 L557.49 228.82 L565.11 233.39 L567.02 242.93 L572.74 248.65 L580.37 244.84 L588 242.93 L592.57 252.46 L591.81 271.53 L588 282.97 L576.56 288.7 L555.58 288.7 L549.1 279.16 L549.1 256.28Z" fill="rgb(42,0,0)"/>
<ellipse cx="496.46" cy="277.25" rx="1.53" ry="1.14" fill="rgb(107,0,0)"/>
<ellipse cx="515.53" cy="290.6" rx="1.14" ry="1.14" fill="rgb(107,0,0)"/>
<ellipse cx="519.35" cy="302.81" rx="1.14" ry="1.14" fill="rgb(107,0,0)"/>
<ellipse cx="538.42" cy="307.77" rx="2.29" ry="0.76" fill="rgb(107,0,0)" transform="rotate(-40 538.42 307.77)"/>
<ellipse cx="588" cy="294.42" rx="1.53" ry="1.14" fill="rgb(107,0,0)"/>
<path d="M472.82 204.79 L485.02 202.12 L502.18 203.65 L506 214.32 L504.09 223.86 L492.65 225.77 L481.21 223.86 L474.34 218.14Z" fill="rgb(43,61,0)" stroke="rgb(43,61,0)" stroke-width="1" stroke-linejoin="round"/>
<path d="M475.49 218.14 L504.09 221.95 L500.28 237.21 L498.37 248.65 L502.18 260.09 L506 269.63 L498.37 267.72 L490.74 256.28 L483.12 242.93 L477.39 229.58Z" fill="rgb(43,57,0)" stroke="rgb(43,57,0)" stroke-width="1" stroke-linejoin="round"/>
<ellipse cx="523.92" cy="216.23" rx="2.29" ry="3.05" fill="rgb(43,59,0)"/>
<ellipse cx="522.4" cy="226.53" rx="2.29" ry="2.29" fill="rgb(43,59,0)"/>
<ellipse cx="519.35" cy="281.07" rx="4.58" ry="2.29" fill="rgb(43,60,0)" transform="rotate(20 519.35 281.07)"/>
<ellipse cx="532.7" cy="283.74" rx="3.81" ry="1.91" fill="rgb(43,59,0)"/>
<ellipse cx="509.81" cy="271.53" rx="3.05" ry="3.05" fill="rgb(43,59,0)"/>
<ellipse cx="559.39" cy="290.6" rx="2.67" ry="1.91" fill="rgb(43,59,0)"/>
<path d="M551.77 237.21 L558.25 231.49 L564.35 237.21 L565.88 248.65 L572.74 252.46 L580.37 248.65 L586.09 250.56 L586.09 267.72 L582.28 281.07 L572.74 286.79 L555.58 286.79 L551.77 275.35 L551.77 256.28Z" fill="rgb(43,60,0)" stroke="rgb(43,60,0)" stroke-width="1" stroke-linejoin="round"/>
<ellipse cx="486.93" cy="210.51" rx="10.68" ry="5.34" fill="rgb(43,76,0)"/>
<path d="M557.49 239.12 L559.77 260.09 L563.21 282.97" stroke="rgb(43,79,0)" stroke-width="8.39" stroke-linecap="round" stroke-linejoin="round" fill="none"/>
<ellipse cx="574.65" cy="265.81" rx="5.72" ry="9.53" fill="rgb(43,65,0)"/>
<ellipse cx="489.6" cy="209.75" rx="4.57" ry="2.29" fill="rgb(43,66,133)"/>
<ellipse cx="493.03" cy="207.46" rx="1.14" ry="1.14" fill="rgb(43,66,166)"/>
<ellipse cx="497.23" cy="219.28" rx="1.37" ry="1.37" fill="rgb(43,66,166)"/>
<path d="M557.1 237.21 L559.01 258.18 L562.06 281.07" stroke="rgb(43,66,143)" stroke-width="6.94" stroke-linecap="round" stroke-linejoin="round" fill="none"/>
<ellipse cx="570.83" cy="262" rx="2.29" ry="2.29" fill="rgb(43,66,133)"/>
<ellipse cx="575.79" cy="252.46" rx="1.84" ry="1.84" fill="rgb(43,66,133)"/>
<path d="M557.1 237.97 L558.63 256.28 L561.3 277.25" stroke="rgb(43,66,171)" stroke-width="3.21" stroke-linecap="round" stroke-linejoin="round" fill="none"/>
<ellipse cx="557.1" cy="239.12" rx="1.37" ry="3.2" fill="rgb(43,66,189)"/>
<ellipse cx="558.25" cy="250.56" rx="1.6" ry="1.6" fill="rgb(43,66,178)"/>
<ellipse cx="562.06" cy="277.25" rx="2.29" ry="2.29" fill="rgb(43,66,186)"/>
</g></g>
<g clip-path="url(#cpg)">
<path class="ln" d="M477.2 196.5 L481 206.5 L485 216.2 L494.6 237.2 L502.2 253.4 L509.8 265.8 L514.5 272 L519.3 277.3 L524 281.5 L528.9 284.9 L532.5 286.9 L536.5 288.3 L540.5 288.5 L544.3 287.9"/>
<path class="ln" d="M549.6 196.5 L572 323.6"/>
</g>
<rect class="bx" x="470.3" y="203.4" width="42.5" height="54.7"/>
<rect class="bx" x="548.7" y="228.1" width="35.3" height="58.1"/>
<path class="tk" d="M466.26 324 v1.7 M466.26 197 v-1.7 M472.1 324 v3.8 M472.1 197 v-3.8 M477.94 324 v1.7 M477.94 197 v-1.7 M483.78 324 v1.7 M483.78 197 v-1.7 M489.62 324 v1.7 M489.62 197 v-1.7 M495.46 324 v1.7 M495.46 197 v-1.7 M501.3 324 v3.8 M501.3 197 v-3.8 M507.14 324 v1.7 M507.14 197 v-1.7 M512.98 324 v1.7 M512.98 197 v-1.7 M518.82 324 v1.7 M518.82 197 v-1.7 M524.66 324 v1.7 M524.66 197 v-1.7 M530.5 324 v3.8 M530.5 197 v-3.8 M536.34 324 v1.7 M536.34 197 v-1.7 M542.18 324 v1.7 M542.18 197 v-1.7 M548.02 324 v1.7 M548.02 197 v-1.7 M553.86 324 v1.7 M553.86 197 v-1.7 M559.7 324 v3.8 M559.7 197 v-3.8 M565.54 324 v1.7 M565.54 197 v-1.7 M571.38 324 v1.7 M571.38 197 v-1.7 M577.22 324 v1.7 M577.22 197 v-1.7 M583.06 324 v1.7 M583.06 197 v-1.7 M588.9 324 v3.8 M588.9 197 v-3.8 M466.2 319.97 h-1.7 M594.1 319.97 h1.7 M466.2 315.85 h-3.8 M594.1 315.85 h3.8 M466.2 311.73 h-1.7 M594.1 311.73 h1.7 M466.2 307.61 h-1.7 M594.1 307.61 h1.7 M466.2 303.49 h-1.7 M594.1 303.49 h1.7 M466.2 299.37 h-1.7 M594.1 299.37 h1.7 M466.2 295.25 h-3.8 M594.1 295.25 h3.8 M466.2 291.13 h-1.7 M594.1 291.13 h1.7 M466.2 287.01 h-1.7 M594.1 287.01 h1.7 M466.2 282.89 h-1.7 M594.1 282.89 h1.7 M466.2 278.77 h-1.7 M594.1 278.77 h1.7 M466.2 274.65 h-3.8 M594.1 274.65 h3.8 M466.2 270.53 h-1.7 M594.1 270.53 h1.7 M466.2 266.41 h-1.7 M594.1 266.41 h1.7 M466.2 262.29 h-1.7 M594.1 262.29 h1.7 M466.2 258.17 h-1.7 M594.1 258.17 h1.7 M466.2 254.05 h-3.8 M594.1 254.05 h3.8 M466.2 249.93 h-1.7 M594.1 249.93 h1.7 M466.2 245.81 h-1.7 M594.1 245.81 h1.7 M466.2 241.69 h-1.7 M594.1 241.69 h1.7 M466.2 237.57 h-1.7 M594.1 237.57 h1.7 M466.2 233.45 h-3.8 M594.1 233.45 h3.8 M466.2 229.33 h-1.7 M594.1 229.33 h1.7 M466.2 225.21 h-1.7 M594.1 225.21 h1.7 M466.2 221.09 h-1.7 M594.1 221.09 h1.7 M466.2 216.97 h-1.7 M594.1 216.97 h1.7 M466.2 212.85 h-3.8 M594.1 212.85 h3.8 M466.2 208.73 h-1.7 M594.1 208.73 h1.7 M466.2 204.61 h-1.7 M594.1 204.61 h1.7 M466.2 200.49 h-1.7 M594.1 200.49 h1.7"/>
<rect class="ax" x="466.2" y="197" width="127.9" height="127"/>
<text class="k" transform="translate(472.1 340.5) scale(0.9 1)">-70</text>
<text class="k" transform="translate(501.3 340.5) scale(0.9 1)">-60</text>
<text class="k" transform="translate(530.5 340.5) scale(0.9 1)">-50</text>
<text class="k" transform="translate(559.7 340.5) scale(0.9 1)">-40</text>
<text class="k" transform="translate(588.9 340.5) scale(0.9 1)">-30</text>
<text class="ky" transform="translate(456.3 319.15) scale(0.9 1)">30</text>
<text class="ky" transform="translate(456.3 298.55) scale(0.9 1)">40</text>
<text class="ky" transform="translate(456.3 277.95) scale(0.9 1)">50</text>
<text class="ky" transform="translate(456.3 257.35) scale(0.9 1)">60</text>
<text class="ky" transform="translate(456.3 236.75) scale(0.9 1)">70</text>
<text class="ky" transform="translate(456.3 216.15) scale(0.9 1)">80</text>
<text class="t" x="530.15" y="190.8">(g) Ci</text>
<text class="t" x="530.15" y="356.1">Temperature (°C)</text>
<rect x="86.8" y="367.9" width="51.04" height="11.6" fill="rgb(255,255,255)" stroke="#2b2b2b" stroke-width="0.8"/>
<rect x="137.84" y="367.9" width="51.04" height="11.6" fill="rgb(150,134,255)" stroke="#2b2b2b" stroke-width="0.8"/>
<rect x="188.88" y="367.9" width="51.04" height="11.6" fill="rgb(62,8,255)" stroke="#2b2b2b" stroke-width="0.8"/>
<rect x="239.92" y="367.9" width="51.04" height="11.6" fill="rgb(28,28,186)" stroke="#2b2b2b" stroke-width="0.8"/>
<rect x="290.96" y="367.9" width="51.04" height="11.6" fill="rgb(0,140,70)" stroke="#2b2b2b" stroke-width="0.8"/>
<rect x="342" y="367.9" width="51.04" height="11.6" fill="rgb(16,200,16)" stroke="#2b2b2b" stroke-width="0.8"/>
<rect x="393.04" y="367.9" width="51.04" height="11.6" fill="rgb(150,238,20)" stroke="#2b2b2b" stroke-width="0.8"/>
<rect x="444.08" y="367.9" width="51.04" height="11.6" fill="rgb(255,226,0)" stroke="#2b2b2b" stroke-width="0.8"/>
<rect x="495.12" y="367.9" width="51.04" height="11.6" fill="rgb(255,112,0)" stroke="#2b2b2b" stroke-width="0.8"/>
<rect x="546.16" y="367.9" width="51.04" height="11.6" fill="rgb(255,0,0)" stroke="#2b2b2b" stroke-width="0.8"/>
<text class="t" style="font-size:12.7px" x="137.84" y="392.5">0.1</text>
<text class="t" style="font-size:12.7px" x="188.88" y="392.5">0.2</text>
<text class="t" style="font-size:12.7px" x="239.92" y="392.5">0.3</text>
<text class="t" style="font-size:12.7px" x="290.96" y="392.5">0.4</text>
<text class="t" style="font-size:12.7px" x="342" y="392.5">0.5</text>
<text class="t" style="font-size:12.7px" x="393.04" y="392.5">0.6</text>
<text class="t" style="font-size:12.7px" x="444.08" y="392.5">0.7</text>
<text class="t" style="font-size:12.7px" x="495.12" y="392.5">0.8</text>
<text class="t" style="font-size:12.7px" x="546.16" y="392.5">0.9</text>
</svg></body></html>
